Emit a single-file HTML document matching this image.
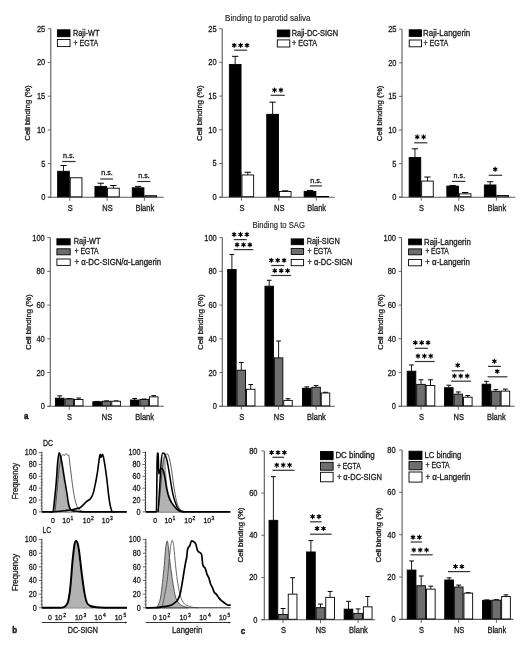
<!DOCTYPE html><html><head><meta charset="utf-8"><style>html,body{margin:0;padding:0;background:#fff;}svg{display:block;will-change:transform;}text{font-family:"Liberation Sans", sans-serif;fill:#1a1a1a;}</style></head><body>
<svg width="520" height="649" viewBox="0 0 520 649">
<rect width="520" height="649" fill="#fff"/>
<text x="225.10" y="20.90" font-size="8.64" textLength="85.40" lengthAdjust="spacingAndGlyphs" stroke="#1a1a1a" stroke-width="0.12">Binding to parotid saliva</text>
<line x1="50.80" y1="28.80" x2="50.80" y2="197.30" stroke="#5a5a5a" stroke-width="1.1"/>
<line x1="47.80" y1="197.30" x2="163.70" y2="197.30" stroke="#5a5a5a" stroke-width="1.1"/>
<line x1="47.80" y1="197.30" x2="50.80" y2="197.30" stroke="#5a5a5a" stroke-width="0.9"/>
<text x="45.30" y="200.25" font-size="9.00" text-anchor="end" textLength="4.17" lengthAdjust="spacingAndGlyphs" stroke="#1a1a1a" stroke-width="0.3">0</text>
<line x1="47.80" y1="163.60" x2="50.80" y2="163.60" stroke="#5a5a5a" stroke-width="0.9"/>
<text x="45.30" y="166.55" font-size="9.00" text-anchor="end" textLength="4.17" lengthAdjust="spacingAndGlyphs" stroke="#1a1a1a" stroke-width="0.3">5</text>
<line x1="47.80" y1="129.90" x2="50.80" y2="129.90" stroke="#5a5a5a" stroke-width="0.9"/>
<text x="45.30" y="132.85" font-size="9.00" text-anchor="end" textLength="8.34" lengthAdjust="spacingAndGlyphs" stroke="#1a1a1a" stroke-width="0.3">10</text>
<line x1="47.80" y1="96.20" x2="50.80" y2="96.20" stroke="#5a5a5a" stroke-width="0.9"/>
<text x="45.30" y="99.15" font-size="9.00" text-anchor="end" textLength="8.34" lengthAdjust="spacingAndGlyphs" stroke="#1a1a1a" stroke-width="0.3">15</text>
<line x1="47.80" y1="62.50" x2="50.80" y2="62.50" stroke="#5a5a5a" stroke-width="0.9"/>
<text x="45.30" y="65.45" font-size="9.00" text-anchor="end" textLength="8.34" lengthAdjust="spacingAndGlyphs" stroke="#1a1a1a" stroke-width="0.3">20</text>
<line x1="47.80" y1="28.80" x2="50.80" y2="28.80" stroke="#5a5a5a" stroke-width="0.9"/>
<text x="45.30" y="31.75" font-size="9.00" text-anchor="end" textLength="8.34" lengthAdjust="spacingAndGlyphs" stroke="#1a1a1a" stroke-width="0.3">25</text>
<line x1="69.80" y1="197.30" x2="69.80" y2="200.80" stroke="#5a5a5a" stroke-width="0.9"/>
<text x="70.20" y="210.90" font-size="8.55" text-anchor="middle" textLength="5.00" lengthAdjust="spacingAndGlyphs" stroke="#1a1a1a" stroke-width="0.3">S</text>
<line x1="107.10" y1="197.30" x2="107.10" y2="200.80" stroke="#5a5a5a" stroke-width="0.9"/>
<text x="107.50" y="210.90" font-size="8.55" text-anchor="middle" textLength="10.42" lengthAdjust="spacingAndGlyphs" stroke="#1a1a1a" stroke-width="0.3">NS</text>
<line x1="144.40" y1="197.30" x2="144.40" y2="200.80" stroke="#5a5a5a" stroke-width="0.9"/>
<text x="144.80" y="210.90" font-size="8.55" text-anchor="middle" textLength="18.76" lengthAdjust="spacingAndGlyphs" stroke="#1a1a1a" stroke-width="0.3">Blank</text>
<line x1="63.50" y1="165.49" x2="63.50" y2="171.28" stroke="#000" stroke-width="0.9"/>
<line x1="60.35" y1="165.49" x2="66.65" y2="165.49" stroke="#000" stroke-width="1.0"/>
<rect x="57.65" y="171.28" width="11.70" height="25.57" fill="#000" stroke="#000" stroke-width="0.9"/>
<rect x="70.25" y="177.75" width="11.70" height="19.10" fill="#fff" stroke="#000" stroke-width="0.9"/>
<line x1="100.80" y1="183.21" x2="100.80" y2="186.38" stroke="#000" stroke-width="0.9"/>
<line x1="97.65" y1="183.21" x2="103.95" y2="183.21" stroke="#000" stroke-width="1.0"/>
<rect x="94.95" y="186.38" width="11.70" height="10.47" fill="#000" stroke="#000" stroke-width="0.9"/>
<line x1="113.40" y1="185.51" x2="113.40" y2="188.20" stroke="#000" stroke-width="0.9"/>
<line x1="110.25" y1="185.51" x2="116.55" y2="185.51" stroke="#000" stroke-width="1.0"/>
<rect x="107.55" y="188.20" width="11.70" height="8.65" fill="#fff" stroke="#000" stroke-width="0.9"/>
<line x1="138.10" y1="186.38" x2="138.10" y2="187.80" stroke="#000" stroke-width="0.9"/>
<line x1="134.95" y1="186.38" x2="141.25" y2="186.38" stroke="#000" stroke-width="1.0"/>
<rect x="132.25" y="187.80" width="11.70" height="9.05" fill="#000" stroke="#000" stroke-width="0.9"/>
<rect x="144.85" y="195.68" width="11.70" height="1.17" fill="#fff" stroke="#000" stroke-width="0.9"/>
<text x="68.70" y="157.90" font-size="7.40" text-anchor="middle" textLength="11.60" lengthAdjust="spacingAndGlyphs" stroke="#1a1a1a" stroke-width="0.3">n.s.</text>
<line x1="62.10" y1="161.50" x2="75.60" y2="161.50" stroke="#333" stroke-width="1.2"/>
<text x="107.00" y="174.80" font-size="7.40" text-anchor="middle" textLength="11.60" lengthAdjust="spacingAndGlyphs" stroke="#1a1a1a" stroke-width="0.3">n.s.</text>
<line x1="100.20" y1="179.00" x2="113.10" y2="179.00" stroke="#333" stroke-width="1.2"/>
<text x="144.00" y="177.90" font-size="7.40" text-anchor="middle" textLength="11.60" lengthAdjust="spacingAndGlyphs" stroke="#1a1a1a" stroke-width="0.3">n.s.</text>
<line x1="137.30" y1="181.50" x2="150.40" y2="181.50" stroke="#333" stroke-width="1.2"/>
<rect x="57.40" y="29.80" width="12.60" height="6.90" fill="#000" stroke="#000" stroke-width="0.9"/>
<text x="72.90" y="35.85" font-size="8.47" textLength="26.50" lengthAdjust="spacingAndGlyphs" stroke="#1a1a1a" stroke-width="0.3">Raji-WT</text>
<rect x="57.40" y="39.50" width="12.60" height="7.10" fill="#fff" stroke="#000" stroke-width="0.9"/>
<text x="73.50" y="45.65" font-size="8.47" textLength="24.80" lengthAdjust="spacingAndGlyphs" stroke="#1a1a1a" stroke-width="0.3">+ EGTA</text>
<text x="30.40" y="113.00" font-size="7.30" text-anchor="middle" textLength="55.50" lengthAdjust="spacingAndGlyphs" stroke="#1a1a1a" stroke-width="0.3" transform="rotate(-90 30.40 113.00)">Cell binding (%)</text>
<line x1="222.20" y1="28.70" x2="222.20" y2="197.20" stroke="#5a5a5a" stroke-width="1.1"/>
<line x1="219.20" y1="197.20" x2="334.70" y2="197.20" stroke="#5a5a5a" stroke-width="1.1"/>
<line x1="219.20" y1="197.20" x2="222.20" y2="197.20" stroke="#5a5a5a" stroke-width="0.9"/>
<text x="216.70" y="200.15" font-size="9.00" text-anchor="end" textLength="4.17" lengthAdjust="spacingAndGlyphs" stroke="#1a1a1a" stroke-width="0.3">0</text>
<line x1="219.20" y1="163.50" x2="222.20" y2="163.50" stroke="#5a5a5a" stroke-width="0.9"/>
<text x="216.70" y="166.45" font-size="9.00" text-anchor="end" textLength="4.17" lengthAdjust="spacingAndGlyphs" stroke="#1a1a1a" stroke-width="0.3">5</text>
<line x1="219.20" y1="129.80" x2="222.20" y2="129.80" stroke="#5a5a5a" stroke-width="0.9"/>
<text x="216.70" y="132.75" font-size="9.00" text-anchor="end" textLength="8.34" lengthAdjust="spacingAndGlyphs" stroke="#1a1a1a" stroke-width="0.3">10</text>
<line x1="219.20" y1="96.10" x2="222.20" y2="96.10" stroke="#5a5a5a" stroke-width="0.9"/>
<text x="216.70" y="99.05" font-size="9.00" text-anchor="end" textLength="8.34" lengthAdjust="spacingAndGlyphs" stroke="#1a1a1a" stroke-width="0.3">15</text>
<line x1="219.20" y1="62.40" x2="222.20" y2="62.40" stroke="#5a5a5a" stroke-width="0.9"/>
<text x="216.70" y="65.35" font-size="9.00" text-anchor="end" textLength="8.34" lengthAdjust="spacingAndGlyphs" stroke="#1a1a1a" stroke-width="0.3">20</text>
<line x1="219.20" y1="28.70" x2="222.20" y2="28.70" stroke="#5a5a5a" stroke-width="0.9"/>
<text x="216.70" y="31.65" font-size="9.00" text-anchor="end" textLength="8.34" lengthAdjust="spacingAndGlyphs" stroke="#1a1a1a" stroke-width="0.3">25</text>
<line x1="241.50" y1="197.20" x2="241.50" y2="200.70" stroke="#5a5a5a" stroke-width="0.9"/>
<text x="241.90" y="210.90" font-size="8.55" text-anchor="middle" textLength="5.00" lengthAdjust="spacingAndGlyphs" stroke="#1a1a1a" stroke-width="0.3">S</text>
<line x1="278.90" y1="197.20" x2="278.90" y2="200.70" stroke="#5a5a5a" stroke-width="0.9"/>
<text x="279.30" y="210.90" font-size="8.55" text-anchor="middle" textLength="10.42" lengthAdjust="spacingAndGlyphs" stroke="#1a1a1a" stroke-width="0.3">NS</text>
<line x1="316.30" y1="197.20" x2="316.30" y2="200.70" stroke="#5a5a5a" stroke-width="0.9"/>
<text x="316.70" y="210.90" font-size="8.55" text-anchor="middle" textLength="18.76" lengthAdjust="spacingAndGlyphs" stroke="#1a1a1a" stroke-width="0.3">Blank</text>
<line x1="235.20" y1="56.33" x2="235.20" y2="64.42" stroke="#000" stroke-width="0.9"/>
<line x1="232.05" y1="56.33" x2="238.35" y2="56.33" stroke="#000" stroke-width="1.0"/>
<rect x="229.35" y="64.42" width="11.70" height="132.33" fill="#000" stroke="#000" stroke-width="0.9"/>
<line x1="247.80" y1="172.26" x2="247.80" y2="174.96" stroke="#000" stroke-width="0.9"/>
<line x1="244.65" y1="172.26" x2="250.95" y2="172.26" stroke="#000" stroke-width="1.0"/>
<rect x="241.95" y="174.96" width="11.70" height="21.79" fill="#fff" stroke="#000" stroke-width="0.9"/>
<line x1="272.60" y1="102.17" x2="272.60" y2="114.30" stroke="#000" stroke-width="0.9"/>
<line x1="269.45" y1="102.17" x2="275.75" y2="102.17" stroke="#000" stroke-width="1.0"/>
<rect x="266.75" y="114.30" width="11.70" height="82.45" fill="#000" stroke="#000" stroke-width="0.9"/>
<line x1="285.20" y1="190.80" x2="285.20" y2="191.47" stroke="#000" stroke-width="0.9"/>
<line x1="282.05" y1="190.80" x2="288.35" y2="190.80" stroke="#000" stroke-width="1.0"/>
<rect x="279.35" y="191.47" width="11.70" height="5.28" fill="#fff" stroke="#000" stroke-width="0.9"/>
<line x1="310.00" y1="190.46" x2="310.00" y2="191.40" stroke="#000" stroke-width="0.9"/>
<line x1="306.85" y1="190.46" x2="313.15" y2="190.46" stroke="#000" stroke-width="1.0"/>
<rect x="304.15" y="191.40" width="11.70" height="5.35" fill="#000" stroke="#000" stroke-width="0.9"/>
<rect x="316.75" y="196.53" width="11.70" height="0.22" fill="#fff" stroke="#000" stroke-width="0.9"/>
<path d="M234.20,43.25L234.20,47.35M232.42,44.27L235.98,46.32M235.98,44.27L232.42,46.32" stroke="#000" stroke-width="1.1" stroke-linecap="round"/>
<circle cx="234.20" cy="45.30" r="1.25" fill="#000"/>
<path d="M240.60,43.25L240.60,47.35M238.82,44.27L242.38,46.32M242.38,44.27L238.82,46.32" stroke="#000" stroke-width="1.1" stroke-linecap="round"/>
<circle cx="240.60" cy="45.30" r="1.25" fill="#000"/>
<path d="M247.00,43.25L247.00,47.35M245.22,44.27L248.78,46.32M248.78,44.27L245.22,46.32" stroke="#000" stroke-width="1.1" stroke-linecap="round"/>
<circle cx="247.00" cy="45.30" r="1.25" fill="#000"/>
<line x1="234.10" y1="50.20" x2="247.10" y2="50.20" stroke="#333" stroke-width="1.2"/>
<path d="M274.50,88.05L274.50,92.15M272.72,89.07L276.28,91.12M276.28,89.07L272.72,91.12" stroke="#000" stroke-width="1.1" stroke-linecap="round"/>
<circle cx="274.50" cy="90.10" r="1.25" fill="#000"/>
<path d="M280.90,88.05L280.90,92.15M279.12,89.07L282.68,91.12M282.68,89.07L279.12,91.12" stroke="#000" stroke-width="1.1" stroke-linecap="round"/>
<circle cx="280.90" cy="90.10" r="1.25" fill="#000"/>
<line x1="270.70" y1="95.30" x2="284.70" y2="95.30" stroke="#333" stroke-width="1.2"/>
<text x="316.00" y="182.80" font-size="7.40" text-anchor="middle" textLength="11.60" lengthAdjust="spacingAndGlyphs" stroke="#1a1a1a" stroke-width="0.3">n.s.</text>
<line x1="309.80" y1="185.90" x2="321.90" y2="185.90" stroke="#333" stroke-width="1.2"/>
<rect x="277.30" y="30.00" width="12.50" height="6.80" fill="#000" stroke="#000" stroke-width="0.9"/>
<text x="291.70" y="36.00" font-size="8.47" textLength="46.50" lengthAdjust="spacingAndGlyphs" stroke="#1a1a1a" stroke-width="0.3">Raji-DC-SIGN</text>
<rect x="277.30" y="39.90" width="12.50" height="7.10" fill="#fff" stroke="#000" stroke-width="0.9"/>
<text x="292.00" y="46.05" font-size="8.47" textLength="25.10" lengthAdjust="spacingAndGlyphs" stroke="#1a1a1a" stroke-width="0.3">+ EGTA</text>
<text x="202.10" y="113.20" font-size="7.30" text-anchor="middle" textLength="55.50" lengthAdjust="spacingAndGlyphs" stroke="#1a1a1a" stroke-width="0.3" transform="rotate(-90 202.10 113.20)">Cell binding (%)</text>
<line x1="402.00" y1="29.20" x2="402.00" y2="197.20" stroke="#5a5a5a" stroke-width="1.1"/>
<line x1="399.00" y1="197.20" x2="515.20" y2="197.20" stroke="#5a5a5a" stroke-width="1.1"/>
<line x1="399.00" y1="197.20" x2="402.00" y2="197.20" stroke="#5a5a5a" stroke-width="0.9"/>
<text x="396.50" y="200.15" font-size="9.00" text-anchor="end" textLength="4.17" lengthAdjust="spacingAndGlyphs" stroke="#1a1a1a" stroke-width="0.3">0</text>
<line x1="399.00" y1="163.60" x2="402.00" y2="163.60" stroke="#5a5a5a" stroke-width="0.9"/>
<text x="396.50" y="166.55" font-size="9.00" text-anchor="end" textLength="4.17" lengthAdjust="spacingAndGlyphs" stroke="#1a1a1a" stroke-width="0.3">5</text>
<line x1="399.00" y1="130.00" x2="402.00" y2="130.00" stroke="#5a5a5a" stroke-width="0.9"/>
<text x="396.50" y="132.95" font-size="9.00" text-anchor="end" textLength="8.34" lengthAdjust="spacingAndGlyphs" stroke="#1a1a1a" stroke-width="0.3">10</text>
<line x1="399.00" y1="96.40" x2="402.00" y2="96.40" stroke="#5a5a5a" stroke-width="0.9"/>
<text x="396.50" y="99.35" font-size="9.00" text-anchor="end" textLength="8.34" lengthAdjust="spacingAndGlyphs" stroke="#1a1a1a" stroke-width="0.3">15</text>
<line x1="399.00" y1="62.80" x2="402.00" y2="62.80" stroke="#5a5a5a" stroke-width="0.9"/>
<text x="396.50" y="65.75" font-size="9.00" text-anchor="end" textLength="8.34" lengthAdjust="spacingAndGlyphs" stroke="#1a1a1a" stroke-width="0.3">20</text>
<line x1="399.00" y1="29.20" x2="402.00" y2="29.20" stroke="#5a5a5a" stroke-width="0.9"/>
<text x="396.50" y="32.15" font-size="9.00" text-anchor="end" textLength="8.34" lengthAdjust="spacingAndGlyphs" stroke="#1a1a1a" stroke-width="0.3">25</text>
<line x1="421.20" y1="197.20" x2="421.20" y2="200.70" stroke="#5a5a5a" stroke-width="0.9"/>
<text x="421.60" y="210.90" font-size="8.55" text-anchor="middle" textLength="5.00" lengthAdjust="spacingAndGlyphs" stroke="#1a1a1a" stroke-width="0.3">S</text>
<line x1="458.90" y1="197.20" x2="458.90" y2="200.70" stroke="#5a5a5a" stroke-width="0.9"/>
<text x="459.30" y="210.90" font-size="8.55" text-anchor="middle" textLength="10.42" lengthAdjust="spacingAndGlyphs" stroke="#1a1a1a" stroke-width="0.3">NS</text>
<line x1="496.40" y1="197.20" x2="496.40" y2="200.70" stroke="#5a5a5a" stroke-width="0.9"/>
<text x="496.80" y="210.90" font-size="8.55" text-anchor="middle" textLength="18.76" lengthAdjust="spacingAndGlyphs" stroke="#1a1a1a" stroke-width="0.3">Blank</text>
<line x1="414.95" y1="148.82" x2="414.95" y2="157.55" stroke="#000" stroke-width="0.9"/>
<line x1="411.82" y1="148.82" x2="418.07" y2="148.82" stroke="#000" stroke-width="1.0"/>
<rect x="409.15" y="157.55" width="11.60" height="39.20" fill="#000" stroke="#000" stroke-width="0.9"/>
<line x1="427.45" y1="177.04" x2="427.45" y2="181.07" stroke="#000" stroke-width="0.9"/>
<line x1="424.32" y1="177.04" x2="430.57" y2="177.04" stroke="#000" stroke-width="1.0"/>
<rect x="421.65" y="181.07" width="11.60" height="15.68" fill="#fff" stroke="#000" stroke-width="0.9"/>
<line x1="452.65" y1="185.44" x2="452.65" y2="186.11" stroke="#000" stroke-width="0.9"/>
<line x1="449.52" y1="185.44" x2="455.77" y2="185.44" stroke="#000" stroke-width="1.0"/>
<rect x="446.85" y="186.11" width="11.60" height="10.64" fill="#000" stroke="#000" stroke-width="0.9"/>
<line x1="465.15" y1="192.50" x2="465.15" y2="193.84" stroke="#000" stroke-width="0.9"/>
<line x1="462.02" y1="192.50" x2="468.27" y2="192.50" stroke="#000" stroke-width="1.0"/>
<rect x="459.35" y="193.84" width="11.60" height="2.91" fill="#fff" stroke="#000" stroke-width="0.9"/>
<line x1="490.15" y1="181.74" x2="490.15" y2="184.97" stroke="#000" stroke-width="0.9"/>
<line x1="487.02" y1="181.74" x2="493.27" y2="181.74" stroke="#000" stroke-width="1.0"/>
<rect x="484.35" y="184.97" width="11.60" height="11.78" fill="#000" stroke="#000" stroke-width="0.9"/>
<rect x="496.85" y="195.52" width="11.60" height="1.23" fill="#fff" stroke="#000" stroke-width="0.9"/>
<path d="M417.20,134.85L417.20,138.95M415.42,135.88L418.98,137.93M418.98,135.88L415.42,137.93" stroke="#000" stroke-width="1.1" stroke-linecap="round"/>
<circle cx="417.20" cy="136.90" r="1.25" fill="#000"/>
<path d="M423.60,134.85L423.60,138.95M421.82,135.88L425.38,137.93M425.38,135.88L421.82,137.93" stroke="#000" stroke-width="1.1" stroke-linecap="round"/>
<circle cx="423.60" cy="136.90" r="1.25" fill="#000"/>
<line x1="414.20" y1="142.80" x2="427.40" y2="142.80" stroke="#333" stroke-width="1.2"/>
<text x="459.40" y="177.50" font-size="7.40" text-anchor="middle" textLength="11.60" lengthAdjust="spacingAndGlyphs" stroke="#1a1a1a" stroke-width="0.3">n.s.</text>
<line x1="451.90" y1="181.40" x2="465.40" y2="181.40" stroke="#333" stroke-width="1.2"/>
<path d="M495.20,167.15L495.20,171.25M493.42,168.17L496.98,170.22M496.98,168.17L493.42,170.22" stroke="#000" stroke-width="1.1" stroke-linecap="round"/>
<circle cx="495.20" cy="169.20" r="1.25" fill="#000"/>
<line x1="488.75" y1="175.30" x2="502.20" y2="175.30" stroke="#333" stroke-width="1.2"/>
<rect x="409.20" y="29.80" width="12.30" height="6.60" fill="#000" stroke="#000" stroke-width="0.9"/>
<text x="423.00" y="35.70" font-size="8.47" textLength="47.20" lengthAdjust="spacingAndGlyphs" stroke="#1a1a1a" stroke-width="0.3">Raji-Langerin</text>
<rect x="409.20" y="40.00" width="12.30" height="6.80" fill="#fff" stroke="#000" stroke-width="0.9"/>
<text x="423.50" y="46.00" font-size="8.47" textLength="24.80" lengthAdjust="spacingAndGlyphs" stroke="#1a1a1a" stroke-width="0.3">+ EGTA</text>
<text x="382.20" y="113.40" font-size="7.30" text-anchor="middle" textLength="55.50" lengthAdjust="spacingAndGlyphs" stroke="#1a1a1a" stroke-width="0.3" transform="rotate(-90 382.20 113.40)">Cell binding (%)</text>
<text x="252.40" y="227.90" font-size="8.42" textLength="52.50" lengthAdjust="spacingAndGlyphs" stroke="#1a1a1a" stroke-width="0.12">Binding to SAG</text>
<line x1="50.30" y1="237.60" x2="50.30" y2="406.30" stroke="#5a5a5a" stroke-width="1.1"/>
<line x1="47.30" y1="406.30" x2="163.70" y2="406.30" stroke="#5a5a5a" stroke-width="1.1"/>
<line x1="47.30" y1="406.30" x2="50.30" y2="406.30" stroke="#5a5a5a" stroke-width="0.9"/>
<text x="44.80" y="409.25" font-size="9.00" text-anchor="end" textLength="4.17" lengthAdjust="spacingAndGlyphs" stroke="#1a1a1a" stroke-width="0.3">0</text>
<line x1="47.30" y1="372.56" x2="50.30" y2="372.56" stroke="#5a5a5a" stroke-width="0.9"/>
<text x="44.80" y="375.51" font-size="9.00" text-anchor="end" textLength="8.34" lengthAdjust="spacingAndGlyphs" stroke="#1a1a1a" stroke-width="0.3">20</text>
<line x1="47.30" y1="338.82" x2="50.30" y2="338.82" stroke="#5a5a5a" stroke-width="0.9"/>
<text x="44.80" y="341.77" font-size="9.00" text-anchor="end" textLength="8.34" lengthAdjust="spacingAndGlyphs" stroke="#1a1a1a" stroke-width="0.3">40</text>
<line x1="47.30" y1="305.08" x2="50.30" y2="305.08" stroke="#5a5a5a" stroke-width="0.9"/>
<text x="44.80" y="308.03" font-size="9.00" text-anchor="end" textLength="8.34" lengthAdjust="spacingAndGlyphs" stroke="#1a1a1a" stroke-width="0.3">60</text>
<line x1="47.30" y1="271.34" x2="50.30" y2="271.34" stroke="#5a5a5a" stroke-width="0.9"/>
<text x="44.80" y="274.29" font-size="9.00" text-anchor="end" textLength="8.34" lengthAdjust="spacingAndGlyphs" stroke="#1a1a1a" stroke-width="0.3">80</text>
<line x1="47.30" y1="237.60" x2="50.30" y2="237.60" stroke="#5a5a5a" stroke-width="0.9"/>
<text x="44.80" y="240.55" font-size="9.00" text-anchor="end" textLength="12.51" lengthAdjust="spacingAndGlyphs" stroke="#1a1a1a" stroke-width="0.3">100</text>
<line x1="69.20" y1="406.30" x2="69.20" y2="409.80" stroke="#5a5a5a" stroke-width="0.9"/>
<text x="69.60" y="419.50" font-size="8.55" text-anchor="middle" textLength="5.00" lengthAdjust="spacingAndGlyphs" stroke="#1a1a1a" stroke-width="0.3">S</text>
<line x1="106.60" y1="406.30" x2="106.60" y2="409.80" stroke="#5a5a5a" stroke-width="0.9"/>
<text x="107.00" y="419.50" font-size="8.55" text-anchor="middle" textLength="10.42" lengthAdjust="spacingAndGlyphs" stroke="#1a1a1a" stroke-width="0.3">NS</text>
<line x1="144.20" y1="406.30" x2="144.20" y2="409.80" stroke="#5a5a5a" stroke-width="0.9"/>
<text x="144.60" y="419.50" font-size="8.55" text-anchor="middle" textLength="18.76" lengthAdjust="spacingAndGlyphs" stroke="#1a1a1a" stroke-width="0.3">Blank</text>
<line x1="59.70" y1="395.84" x2="59.70" y2="398.20" stroke="#000" stroke-width="0.9"/>
<line x1="57.33" y1="395.84" x2="62.08" y2="395.84" stroke="#000" stroke-width="1.0"/>
<rect x="55.40" y="398.20" width="8.60" height="7.65" fill="#000" stroke="#000" stroke-width="0.9"/>
<line x1="69.20" y1="398.54" x2="69.20" y2="398.88" stroke="#000" stroke-width="0.9"/>
<line x1="66.83" y1="398.54" x2="71.58" y2="398.54" stroke="#000" stroke-width="1.0"/>
<rect x="64.90" y="398.88" width="8.60" height="6.97" fill="#6e6e6e" stroke="#000" stroke-width="0.9"/>
<line x1="78.70" y1="398.03" x2="78.70" y2="399.55" stroke="#000" stroke-width="0.9"/>
<line x1="76.33" y1="398.03" x2="81.08" y2="398.03" stroke="#000" stroke-width="1.0"/>
<rect x="74.40" y="399.55" width="8.60" height="6.30" fill="#fff" stroke="#000" stroke-width="0.9"/>
<line x1="97.10" y1="401.41" x2="97.10" y2="401.75" stroke="#000" stroke-width="0.9"/>
<line x1="94.72" y1="401.41" x2="99.47" y2="401.41" stroke="#000" stroke-width="1.0"/>
<rect x="92.80" y="401.75" width="8.60" height="4.10" fill="#000" stroke="#000" stroke-width="0.9"/>
<line x1="106.60" y1="400.90" x2="106.60" y2="401.24" stroke="#000" stroke-width="0.9"/>
<line x1="104.22" y1="400.90" x2="108.97" y2="400.90" stroke="#000" stroke-width="1.0"/>
<rect x="102.30" y="401.24" width="8.60" height="4.61" fill="#6e6e6e" stroke="#000" stroke-width="0.9"/>
<line x1="116.10" y1="400.90" x2="116.10" y2="401.24" stroke="#000" stroke-width="0.9"/>
<line x1="113.72" y1="400.90" x2="118.47" y2="400.90" stroke="#000" stroke-width="1.0"/>
<rect x="111.80" y="401.24" width="8.60" height="4.61" fill="#fff" stroke="#000" stroke-width="0.9"/>
<line x1="134.70" y1="398.54" x2="134.70" y2="400.06" stroke="#000" stroke-width="0.9"/>
<line x1="132.32" y1="398.54" x2="137.07" y2="398.54" stroke="#000" stroke-width="1.0"/>
<rect x="130.40" y="400.06" width="8.60" height="5.79" fill="#000" stroke="#000" stroke-width="0.9"/>
<line x1="144.20" y1="399.05" x2="144.20" y2="399.38" stroke="#000" stroke-width="0.9"/>
<line x1="141.82" y1="399.05" x2="146.57" y2="399.05" stroke="#000" stroke-width="1.0"/>
<rect x="139.90" y="399.38" width="8.60" height="6.47" fill="#6e6e6e" stroke="#000" stroke-width="0.9"/>
<line x1="153.70" y1="395.67" x2="153.70" y2="396.85" stroke="#000" stroke-width="0.9"/>
<line x1="151.32" y1="395.67" x2="156.07" y2="395.67" stroke="#000" stroke-width="1.0"/>
<rect x="149.40" y="396.85" width="8.60" height="9.00" fill="#fff" stroke="#000" stroke-width="0.9"/>
<rect x="56.90" y="238.80" width="13.30" height="6.10" fill="#000" stroke="#000" stroke-width="0.9"/>
<text x="73.70" y="244.45" font-size="8.47" textLength="26.80" lengthAdjust="spacingAndGlyphs" stroke="#1a1a1a" stroke-width="0.3">Raji-WT</text>
<rect x="56.90" y="248.80" width="13.30" height="6.00" fill="#6e6e6e" stroke="#000" stroke-width="0.9"/>
<text x="74.50" y="254.40" font-size="8.47" textLength="24.20" lengthAdjust="spacingAndGlyphs" stroke="#1a1a1a" stroke-width="0.3">+ EGTA</text>
<rect x="56.90" y="259.00" width="13.30" height="6.40" fill="#fff" stroke="#000" stroke-width="0.9"/>
<text x="74.50" y="264.80" font-size="8.47" textLength="86.60" lengthAdjust="spacingAndGlyphs" stroke="#1a1a1a" stroke-width="0.3">+ α-DC-SIGN/α-Langerin</text>
<text x="30.60" y="322.20" font-size="7.30" text-anchor="middle" textLength="55.50" lengthAdjust="spacingAndGlyphs" stroke="#1a1a1a" stroke-width="0.3" transform="rotate(-90 30.60 322.20)">Cell binding (%)</text>
<line x1="222.30" y1="237.60" x2="222.30" y2="406.30" stroke="#5a5a5a" stroke-width="1.1"/>
<line x1="219.30" y1="406.30" x2="334.90" y2="406.30" stroke="#5a5a5a" stroke-width="1.1"/>
<line x1="219.30" y1="406.30" x2="222.30" y2="406.30" stroke="#5a5a5a" stroke-width="0.9"/>
<text x="216.80" y="409.25" font-size="9.00" text-anchor="end" textLength="4.17" lengthAdjust="spacingAndGlyphs" stroke="#1a1a1a" stroke-width="0.3">0</text>
<line x1="219.30" y1="372.56" x2="222.30" y2="372.56" stroke="#5a5a5a" stroke-width="0.9"/>
<text x="216.80" y="375.51" font-size="9.00" text-anchor="end" textLength="8.34" lengthAdjust="spacingAndGlyphs" stroke="#1a1a1a" stroke-width="0.3">20</text>
<line x1="219.30" y1="338.82" x2="222.30" y2="338.82" stroke="#5a5a5a" stroke-width="0.9"/>
<text x="216.80" y="341.77" font-size="9.00" text-anchor="end" textLength="8.34" lengthAdjust="spacingAndGlyphs" stroke="#1a1a1a" stroke-width="0.3">40</text>
<line x1="219.30" y1="305.08" x2="222.30" y2="305.08" stroke="#5a5a5a" stroke-width="0.9"/>
<text x="216.80" y="308.03" font-size="9.00" text-anchor="end" textLength="8.34" lengthAdjust="spacingAndGlyphs" stroke="#1a1a1a" stroke-width="0.3">60</text>
<line x1="219.30" y1="271.34" x2="222.30" y2="271.34" stroke="#5a5a5a" stroke-width="0.9"/>
<text x="216.80" y="274.29" font-size="9.00" text-anchor="end" textLength="8.34" lengthAdjust="spacingAndGlyphs" stroke="#1a1a1a" stroke-width="0.3">80</text>
<line x1="219.30" y1="237.60" x2="222.30" y2="237.60" stroke="#5a5a5a" stroke-width="0.9"/>
<text x="216.80" y="240.55" font-size="9.00" text-anchor="end" textLength="12.51" lengthAdjust="spacingAndGlyphs" stroke="#1a1a1a" stroke-width="0.3">100</text>
<line x1="241.30" y1="406.30" x2="241.30" y2="409.80" stroke="#5a5a5a" stroke-width="0.9"/>
<text x="241.70" y="419.50" font-size="8.55" text-anchor="middle" textLength="5.00" lengthAdjust="spacingAndGlyphs" stroke="#1a1a1a" stroke-width="0.3">S</text>
<line x1="278.60" y1="406.30" x2="278.60" y2="409.80" stroke="#5a5a5a" stroke-width="0.9"/>
<text x="279.00" y="419.50" font-size="8.55" text-anchor="middle" textLength="10.42" lengthAdjust="spacingAndGlyphs" stroke="#1a1a1a" stroke-width="0.3">NS</text>
<line x1="316.10" y1="406.30" x2="316.10" y2="409.80" stroke="#5a5a5a" stroke-width="0.9"/>
<text x="316.50" y="419.50" font-size="8.55" text-anchor="middle" textLength="18.76" lengthAdjust="spacingAndGlyphs" stroke="#1a1a1a" stroke-width="0.3">Blank</text>
<line x1="231.90" y1="254.47" x2="231.90" y2="269.48" stroke="#000" stroke-width="0.9"/>
<line x1="229.55" y1="254.47" x2="234.25" y2="254.47" stroke="#000" stroke-width="1.0"/>
<rect x="227.65" y="269.48" width="8.50" height="136.37" fill="#000" stroke="#000" stroke-width="0.9"/>
<line x1="241.30" y1="362.44" x2="241.30" y2="370.20" stroke="#000" stroke-width="0.9"/>
<line x1="238.95" y1="362.44" x2="243.65" y2="362.44" stroke="#000" stroke-width="1.0"/>
<rect x="237.05" y="370.20" width="8.50" height="35.65" fill="#6e6e6e" stroke="#000" stroke-width="0.9"/>
<line x1="250.70" y1="384.54" x2="250.70" y2="389.26" stroke="#000" stroke-width="0.9"/>
<line x1="248.35" y1="384.54" x2="253.05" y2="384.54" stroke="#000" stroke-width="1.0"/>
<rect x="246.45" y="389.26" width="8.50" height="16.59" fill="#fff" stroke="#000" stroke-width="0.9"/>
<line x1="269.20" y1="280.28" x2="269.20" y2="286.19" stroke="#000" stroke-width="0.9"/>
<line x1="266.85" y1="280.28" x2="271.55" y2="280.28" stroke="#000" stroke-width="1.0"/>
<rect x="264.95" y="286.19" width="8.50" height="119.66" fill="#000" stroke="#000" stroke-width="0.9"/>
<line x1="278.60" y1="341.01" x2="278.60" y2="357.88" stroke="#000" stroke-width="0.9"/>
<line x1="276.25" y1="341.01" x2="280.95" y2="341.01" stroke="#000" stroke-width="1.0"/>
<rect x="274.35" y="357.88" width="8.50" height="47.97" fill="#6e6e6e" stroke="#000" stroke-width="0.9"/>
<line x1="288.00" y1="398.71" x2="288.00" y2="400.40" stroke="#000" stroke-width="0.9"/>
<line x1="285.65" y1="398.71" x2="290.35" y2="398.71" stroke="#000" stroke-width="1.0"/>
<rect x="283.75" y="400.40" width="8.50" height="5.45" fill="#fff" stroke="#000" stroke-width="0.9"/>
<line x1="306.70" y1="386.90" x2="306.70" y2="388.25" stroke="#000" stroke-width="0.9"/>
<line x1="304.35" y1="386.90" x2="309.05" y2="386.90" stroke="#000" stroke-width="1.0"/>
<rect x="302.45" y="388.25" width="8.50" height="17.60" fill="#000" stroke="#000" stroke-width="0.9"/>
<line x1="316.10" y1="385.55" x2="316.10" y2="387.24" stroke="#000" stroke-width="0.9"/>
<line x1="313.75" y1="385.55" x2="318.45" y2="385.55" stroke="#000" stroke-width="1.0"/>
<rect x="311.85" y="387.24" width="8.50" height="18.61" fill="#6e6e6e" stroke="#000" stroke-width="0.9"/>
<line x1="325.50" y1="392.30" x2="325.50" y2="392.97" stroke="#000" stroke-width="0.9"/>
<line x1="323.15" y1="392.30" x2="327.85" y2="392.30" stroke="#000" stroke-width="1.0"/>
<rect x="321.25" y="392.97" width="8.50" height="12.88" fill="#fff" stroke="#000" stroke-width="0.9"/>
<path d="M234.10,232.35L234.10,236.45M232.32,233.38L235.88,235.43M235.88,233.38L232.32,235.43" stroke="#000" stroke-width="1.1" stroke-linecap="round"/>
<circle cx="234.10" cy="234.40" r="1.25" fill="#000"/>
<path d="M240.50,232.35L240.50,236.45M238.72,233.38L242.28,235.43M242.28,233.38L238.72,235.43" stroke="#000" stroke-width="1.1" stroke-linecap="round"/>
<circle cx="240.50" cy="234.40" r="1.25" fill="#000"/>
<path d="M246.90,232.35L246.90,236.45M245.12,233.38L248.68,235.43M248.68,233.38L245.12,235.43" stroke="#000" stroke-width="1.1" stroke-linecap="round"/>
<circle cx="246.90" cy="234.40" r="1.25" fill="#000"/>
<line x1="233.70" y1="239.60" x2="246.70" y2="239.60" stroke="#333" stroke-width="1.2"/>
<path d="M237.10,242.75L237.10,246.85M235.32,243.78L238.88,245.83M238.88,243.78L235.32,245.83" stroke="#000" stroke-width="1.1" stroke-linecap="round"/>
<circle cx="237.10" cy="244.80" r="1.25" fill="#000"/>
<path d="M243.50,242.75L243.50,246.85M241.72,243.78L245.28,245.83M245.28,243.78L241.72,245.83" stroke="#000" stroke-width="1.1" stroke-linecap="round"/>
<circle cx="243.50" cy="244.80" r="1.25" fill="#000"/>
<path d="M249.90,242.75L249.90,246.85M248.12,243.78L251.68,245.83M251.68,243.78L248.12,245.83" stroke="#000" stroke-width="1.1" stroke-linecap="round"/>
<circle cx="249.90" cy="244.80" r="1.25" fill="#000"/>
<line x1="233.70" y1="249.60" x2="253.30" y2="249.60" stroke="#333" stroke-width="1.2"/>
<path d="M271.30,258.25L271.30,262.35M269.52,259.28L273.08,261.32M273.08,259.28L269.52,261.32" stroke="#000" stroke-width="1.1" stroke-linecap="round"/>
<circle cx="271.30" cy="260.30" r="1.25" fill="#000"/>
<path d="M277.70,258.25L277.70,262.35M275.92,259.28L279.48,261.32M279.48,259.28L275.92,261.32" stroke="#000" stroke-width="1.1" stroke-linecap="round"/>
<circle cx="277.70" cy="260.30" r="1.25" fill="#000"/>
<path d="M284.10,258.25L284.10,262.35M282.32,259.28L285.88,261.32M285.88,259.28L282.32,261.32" stroke="#000" stroke-width="1.1" stroke-linecap="round"/>
<circle cx="284.10" cy="260.30" r="1.25" fill="#000"/>
<line x1="271.20" y1="265.50" x2="284.20" y2="265.50" stroke="#333" stroke-width="1.2"/>
<path d="M274.80,268.65L274.80,272.75M273.02,269.68L276.58,271.72M276.58,269.68L273.02,271.72" stroke="#000" stroke-width="1.1" stroke-linecap="round"/>
<circle cx="274.80" cy="270.70" r="1.25" fill="#000"/>
<path d="M281.20,268.65L281.20,272.75M279.42,269.68L282.98,271.72M282.98,269.68L279.42,271.72" stroke="#000" stroke-width="1.1" stroke-linecap="round"/>
<circle cx="281.20" cy="270.70" r="1.25" fill="#000"/>
<path d="M287.60,268.65L287.60,272.75M285.82,269.68L289.38,271.72M289.38,269.68L285.82,271.72" stroke="#000" stroke-width="1.1" stroke-linecap="round"/>
<circle cx="287.60" cy="270.70" r="1.25" fill="#000"/>
<line x1="271.20" y1="275.50" x2="291.20" y2="275.50" stroke="#333" stroke-width="1.2"/>
<rect x="291.20" y="238.90" width="12.40" height="5.80" fill="#000" stroke="#000" stroke-width="0.9"/>
<text x="306.70" y="244.40" font-size="8.47" textLength="33.10" lengthAdjust="spacingAndGlyphs" stroke="#1a1a1a" stroke-width="0.3">Raji-SIGN</text>
<rect x="291.20" y="248.40" width="12.40" height="6.10" fill="#6e6e6e" stroke="#000" stroke-width="0.9"/>
<text x="307.50" y="254.05" font-size="8.47" textLength="24.20" lengthAdjust="spacingAndGlyphs" stroke="#1a1a1a" stroke-width="0.3">+ EGTA</text>
<rect x="291.20" y="259.40" width="12.40" height="6.30" fill="#fff" stroke="#000" stroke-width="0.9"/>
<text x="307.50" y="265.15" font-size="8.47" textLength="45.00" lengthAdjust="spacingAndGlyphs" stroke="#1a1a1a" stroke-width="0.3">+ α-DC-SIGN</text>
<text x="202.90" y="322.20" font-size="7.30" text-anchor="middle" textLength="55.50" lengthAdjust="spacingAndGlyphs" stroke="#1a1a1a" stroke-width="0.3" transform="rotate(-90 202.90 322.20)">Cell binding (%)</text>
<line x1="401.50" y1="237.60" x2="401.50" y2="406.30" stroke="#5a5a5a" stroke-width="1.1"/>
<line x1="398.50" y1="406.30" x2="514.80" y2="406.30" stroke="#5a5a5a" stroke-width="1.1"/>
<line x1="398.50" y1="406.30" x2="401.50" y2="406.30" stroke="#5a5a5a" stroke-width="0.9"/>
<text x="396.00" y="409.25" font-size="9.00" text-anchor="end" textLength="4.17" lengthAdjust="spacingAndGlyphs" stroke="#1a1a1a" stroke-width="0.3">0</text>
<line x1="398.50" y1="372.56" x2="401.50" y2="372.56" stroke="#5a5a5a" stroke-width="0.9"/>
<text x="396.00" y="375.51" font-size="9.00" text-anchor="end" textLength="8.34" lengthAdjust="spacingAndGlyphs" stroke="#1a1a1a" stroke-width="0.3">20</text>
<line x1="398.50" y1="338.82" x2="401.50" y2="338.82" stroke="#5a5a5a" stroke-width="0.9"/>
<text x="396.00" y="341.77" font-size="9.00" text-anchor="end" textLength="8.34" lengthAdjust="spacingAndGlyphs" stroke="#1a1a1a" stroke-width="0.3">40</text>
<line x1="398.50" y1="305.08" x2="401.50" y2="305.08" stroke="#5a5a5a" stroke-width="0.9"/>
<text x="396.00" y="308.03" font-size="9.00" text-anchor="end" textLength="8.34" lengthAdjust="spacingAndGlyphs" stroke="#1a1a1a" stroke-width="0.3">60</text>
<line x1="398.50" y1="271.34" x2="401.50" y2="271.34" stroke="#5a5a5a" stroke-width="0.9"/>
<text x="396.00" y="274.29" font-size="9.00" text-anchor="end" textLength="8.34" lengthAdjust="spacingAndGlyphs" stroke="#1a1a1a" stroke-width="0.3">80</text>
<line x1="398.50" y1="237.60" x2="401.50" y2="237.60" stroke="#5a5a5a" stroke-width="0.9"/>
<text x="396.00" y="240.55" font-size="9.00" text-anchor="end" textLength="12.51" lengthAdjust="spacingAndGlyphs" stroke="#1a1a1a" stroke-width="0.3">100</text>
<line x1="421.00" y1="406.30" x2="421.00" y2="409.80" stroke="#5a5a5a" stroke-width="0.9"/>
<text x="421.40" y="419.50" font-size="8.55" text-anchor="middle" textLength="5.00" lengthAdjust="spacingAndGlyphs" stroke="#1a1a1a" stroke-width="0.3">S</text>
<line x1="458.30" y1="406.30" x2="458.30" y2="409.80" stroke="#5a5a5a" stroke-width="0.9"/>
<text x="458.70" y="419.50" font-size="8.55" text-anchor="middle" textLength="10.42" lengthAdjust="spacingAndGlyphs" stroke="#1a1a1a" stroke-width="0.3">NS</text>
<line x1="495.90" y1="406.30" x2="495.90" y2="409.80" stroke="#5a5a5a" stroke-width="0.9"/>
<text x="496.30" y="419.50" font-size="8.55" text-anchor="middle" textLength="18.76" lengthAdjust="spacingAndGlyphs" stroke="#1a1a1a" stroke-width="0.3">Blank</text>
<line x1="411.50" y1="364.97" x2="411.50" y2="371.21" stroke="#000" stroke-width="0.9"/>
<line x1="409.12" y1="364.97" x2="413.88" y2="364.97" stroke="#000" stroke-width="1.0"/>
<rect x="407.20" y="371.21" width="8.60" height="34.64" fill="#000" stroke="#000" stroke-width="0.9"/>
<line x1="421.00" y1="379.81" x2="421.00" y2="384.37" stroke="#000" stroke-width="0.9"/>
<line x1="418.62" y1="379.81" x2="423.38" y2="379.81" stroke="#000" stroke-width="1.0"/>
<rect x="416.70" y="384.37" width="8.60" height="21.48" fill="#6e6e6e" stroke="#000" stroke-width="0.9"/>
<line x1="430.50" y1="379.81" x2="430.50" y2="385.55" stroke="#000" stroke-width="0.9"/>
<line x1="428.12" y1="379.81" x2="432.88" y2="379.81" stroke="#000" stroke-width="1.0"/>
<rect x="426.20" y="385.55" width="8.60" height="20.30" fill="#fff" stroke="#000" stroke-width="0.9"/>
<line x1="448.80" y1="385.21" x2="448.80" y2="387.74" stroke="#000" stroke-width="0.9"/>
<line x1="446.43" y1="385.21" x2="451.18" y2="385.21" stroke="#000" stroke-width="1.0"/>
<rect x="444.50" y="387.74" width="8.60" height="18.11" fill="#000" stroke="#000" stroke-width="0.9"/>
<line x1="458.30" y1="391.96" x2="458.30" y2="394.15" stroke="#000" stroke-width="0.9"/>
<line x1="455.93" y1="391.96" x2="460.68" y2="391.96" stroke="#000" stroke-width="1.0"/>
<rect x="454.00" y="394.15" width="8.60" height="11.70" fill="#6e6e6e" stroke="#000" stroke-width="0.9"/>
<line x1="467.80" y1="395.50" x2="467.80" y2="397.19" stroke="#000" stroke-width="0.9"/>
<line x1="465.43" y1="395.50" x2="470.18" y2="395.50" stroke="#000" stroke-width="1.0"/>
<rect x="463.50" y="397.19" width="8.60" height="8.66" fill="#fff" stroke="#000" stroke-width="0.9"/>
<line x1="486.40" y1="381.33" x2="486.40" y2="384.20" stroke="#000" stroke-width="0.9"/>
<line x1="484.02" y1="381.33" x2="488.77" y2="381.33" stroke="#000" stroke-width="1.0"/>
<rect x="482.10" y="384.20" width="8.60" height="21.65" fill="#000" stroke="#000" stroke-width="0.9"/>
<line x1="495.90" y1="389.60" x2="495.90" y2="391.29" stroke="#000" stroke-width="0.9"/>
<line x1="493.52" y1="389.60" x2="498.27" y2="389.60" stroke="#000" stroke-width="1.0"/>
<rect x="491.60" y="391.29" width="8.60" height="14.56" fill="#6e6e6e" stroke="#000" stroke-width="0.9"/>
<line x1="505.40" y1="389.09" x2="505.40" y2="391.12" stroke="#000" stroke-width="0.9"/>
<line x1="503.02" y1="389.09" x2="507.77" y2="389.09" stroke="#000" stroke-width="1.0"/>
<rect x="501.10" y="391.12" width="8.60" height="14.73" fill="#fff" stroke="#000" stroke-width="0.9"/>
<path d="M415.30,340.65L415.30,344.75M413.52,341.68L417.08,343.72M417.08,341.68L413.52,343.72" stroke="#000" stroke-width="1.1" stroke-linecap="round"/>
<circle cx="415.30" cy="342.70" r="1.25" fill="#000"/>
<path d="M421.70,340.65L421.70,344.75M419.92,341.68L423.48,343.72M423.48,341.68L419.92,343.72" stroke="#000" stroke-width="1.1" stroke-linecap="round"/>
<circle cx="421.70" cy="342.70" r="1.25" fill="#000"/>
<path d="M428.10,340.65L428.10,344.75M426.32,341.68L429.88,343.72M429.88,341.68L426.32,343.72" stroke="#000" stroke-width="1.1" stroke-linecap="round"/>
<circle cx="428.10" cy="342.70" r="1.25" fill="#000"/>
<line x1="415.00" y1="348.30" x2="427.90" y2="348.30" stroke="#333" stroke-width="1.2"/>
<path d="M418.00,354.05L418.00,358.15M416.22,355.08L419.78,357.12M419.78,355.08L416.22,357.12" stroke="#000" stroke-width="1.1" stroke-linecap="round"/>
<circle cx="418.00" cy="356.10" r="1.25" fill="#000"/>
<path d="M424.40,354.05L424.40,358.15M422.62,355.08L426.18,357.12M426.18,355.08L422.62,357.12" stroke="#000" stroke-width="1.1" stroke-linecap="round"/>
<circle cx="424.40" cy="356.10" r="1.25" fill="#000"/>
<path d="M430.80,354.05L430.80,358.15M429.02,355.08L432.58,357.12M432.58,355.08L429.02,357.12" stroke="#000" stroke-width="1.1" stroke-linecap="round"/>
<circle cx="430.80" cy="356.10" r="1.25" fill="#000"/>
<line x1="415.00" y1="361.50" x2="434.70" y2="361.50" stroke="#333" stroke-width="1.2"/>
<path d="M457.70,363.15L457.70,367.25M455.92,364.18L459.48,366.22M459.48,364.18L455.92,366.22" stroke="#000" stroke-width="1.1" stroke-linecap="round"/>
<circle cx="457.70" cy="365.20" r="1.25" fill="#000"/>
<line x1="451.60" y1="370.80" x2="464.30" y2="370.80" stroke="#333" stroke-width="1.2"/>
<path d="M454.40,373.95L454.40,378.05M452.62,374.98L456.18,377.02M456.18,374.98L452.62,377.02" stroke="#000" stroke-width="1.1" stroke-linecap="round"/>
<circle cx="454.40" cy="376.00" r="1.25" fill="#000"/>
<path d="M460.80,373.95L460.80,378.05M459.02,374.98L462.58,377.02M462.58,374.98L459.02,377.02" stroke="#000" stroke-width="1.1" stroke-linecap="round"/>
<circle cx="460.80" cy="376.00" r="1.25" fill="#000"/>
<path d="M467.20,373.95L467.20,378.05M465.42,374.98L468.98,377.02M468.98,374.98L465.42,377.02" stroke="#000" stroke-width="1.1" stroke-linecap="round"/>
<circle cx="467.20" cy="376.00" r="1.25" fill="#000"/>
<line x1="451.10" y1="381.20" x2="471.00" y2="381.20" stroke="#333" stroke-width="1.2"/>
<path d="M494.40,359.15L494.40,363.25M492.62,360.18L496.18,362.22M496.18,360.18L492.62,362.22" stroke="#000" stroke-width="1.1" stroke-linecap="round"/>
<circle cx="494.40" cy="361.20" r="1.25" fill="#000"/>
<line x1="488.00" y1="366.40" x2="501.00" y2="366.40" stroke="#333" stroke-width="1.2"/>
<path d="M497.20,369.25L497.20,373.35M495.42,370.28L498.98,372.32M498.98,370.28L495.42,372.32" stroke="#000" stroke-width="1.1" stroke-linecap="round"/>
<circle cx="497.20" cy="371.30" r="1.25" fill="#000"/>
<line x1="487.60" y1="376.80" x2="507.40" y2="376.80" stroke="#333" stroke-width="1.2"/>
<rect x="408.60" y="239.00" width="12.90" height="5.80" fill="#000" stroke="#000" stroke-width="0.9"/>
<text x="424.00" y="244.50" font-size="8.47" textLength="46.80" lengthAdjust="spacingAndGlyphs" stroke="#1a1a1a" stroke-width="0.3">Raji-Langerin</text>
<rect x="408.60" y="248.90" width="12.90" height="5.90" fill="#6e6e6e" stroke="#000" stroke-width="0.9"/>
<text x="425.20" y="254.45" font-size="8.47" textLength="23.60" lengthAdjust="spacingAndGlyphs" stroke="#1a1a1a" stroke-width="0.3">+ EGTA</text>
<rect x="408.60" y="259.40" width="12.90" height="6.40" fill="#fff" stroke="#000" stroke-width="0.9"/>
<text x="425.20" y="265.20" font-size="8.47" textLength="44.60" lengthAdjust="spacingAndGlyphs" stroke="#1a1a1a" stroke-width="0.3">+ α-Langerin</text>
<text x="382.60" y="322.20" font-size="7.30" text-anchor="middle" textLength="55.50" lengthAdjust="spacingAndGlyphs" stroke="#1a1a1a" stroke-width="0.3" transform="rotate(-90 382.60 322.20)">Cell binding (%)</text>
<text x="26.30" y="419.40" font-size="8.96" text-anchor="middle" textLength="4.45" lengthAdjust="spacingAndGlyphs" font-weight="bold" stroke="#1a1a1a" stroke-width="0.45">a</text>
<line x1="264.30" y1="450.90" x2="264.30" y2="619.70" stroke="#5a5a5a" stroke-width="1.1"/>
<line x1="261.30" y1="619.70" x2="375.20" y2="619.70" stroke="#5a5a5a" stroke-width="1.1"/>
<line x1="261.30" y1="619.70" x2="264.30" y2="619.70" stroke="#5a5a5a" stroke-width="0.9"/>
<text x="257.50" y="622.65" font-size="9.00" text-anchor="end" textLength="4.17" lengthAdjust="spacingAndGlyphs" stroke="#1a1a1a" stroke-width="0.3">0</text>
<line x1="261.30" y1="577.50" x2="264.30" y2="577.50" stroke="#5a5a5a" stroke-width="0.9"/>
<text x="257.50" y="580.45" font-size="9.00" text-anchor="end" textLength="8.34" lengthAdjust="spacingAndGlyphs" stroke="#1a1a1a" stroke-width="0.3">20</text>
<line x1="261.30" y1="535.30" x2="264.30" y2="535.30" stroke="#5a5a5a" stroke-width="0.9"/>
<text x="257.50" y="538.25" font-size="9.00" text-anchor="end" textLength="8.34" lengthAdjust="spacingAndGlyphs" stroke="#1a1a1a" stroke-width="0.3">40</text>
<line x1="261.30" y1="493.10" x2="264.30" y2="493.10" stroke="#5a5a5a" stroke-width="0.9"/>
<text x="257.50" y="496.05" font-size="9.00" text-anchor="end" textLength="8.34" lengthAdjust="spacingAndGlyphs" stroke="#1a1a1a" stroke-width="0.3">60</text>
<line x1="261.30" y1="450.90" x2="264.30" y2="450.90" stroke="#5a5a5a" stroke-width="0.9"/>
<text x="257.50" y="453.85" font-size="9.00" text-anchor="end" textLength="8.34" lengthAdjust="spacingAndGlyphs" stroke="#1a1a1a" stroke-width="0.3">80</text>
<line x1="283.00" y1="619.70" x2="283.00" y2="623.20" stroke="#5a5a5a" stroke-width="0.9"/>
<text x="283.40" y="632.90" font-size="8.55" text-anchor="middle" textLength="5.00" lengthAdjust="spacingAndGlyphs" stroke="#1a1a1a" stroke-width="0.3">S</text>
<line x1="320.50" y1="619.70" x2="320.50" y2="623.20" stroke="#5a5a5a" stroke-width="0.9"/>
<text x="320.90" y="632.90" font-size="8.55" text-anchor="middle" textLength="10.42" lengthAdjust="spacingAndGlyphs" stroke="#1a1a1a" stroke-width="0.3">NS</text>
<line x1="358.10" y1="619.70" x2="358.10" y2="623.20" stroke="#5a5a5a" stroke-width="0.9"/>
<text x="358.50" y="632.90" font-size="8.55" text-anchor="middle" textLength="18.76" lengthAdjust="spacingAndGlyphs" stroke="#1a1a1a" stroke-width="0.3">Blank</text>
<line x1="273.40" y1="476.64" x2="273.40" y2="520.32" stroke="#000" stroke-width="0.9"/>
<line x1="271.00" y1="476.64" x2="275.80" y2="476.64" stroke="#000" stroke-width="1.0"/>
<rect x="269.05" y="520.32" width="8.70" height="98.93" fill="#000" stroke="#000" stroke-width="0.9"/>
<line x1="283.00" y1="608.52" x2="283.00" y2="614.43" stroke="#000" stroke-width="0.9"/>
<line x1="280.60" y1="608.52" x2="285.40" y2="608.52" stroke="#000" stroke-width="1.0"/>
<rect x="278.65" y="614.43" width="8.70" height="4.82" fill="#6e6e6e" stroke="#000" stroke-width="0.9"/>
<line x1="292.60" y1="577.71" x2="292.60" y2="594.17" stroke="#000" stroke-width="0.9"/>
<line x1="290.20" y1="577.71" x2="295.00" y2="577.71" stroke="#000" stroke-width="1.0"/>
<rect x="288.25" y="594.17" width="8.70" height="25.08" fill="#fff" stroke="#000" stroke-width="0.9"/>
<line x1="310.90" y1="540.58" x2="310.90" y2="551.97" stroke="#000" stroke-width="0.9"/>
<line x1="308.50" y1="540.58" x2="313.30" y2="540.58" stroke="#000" stroke-width="1.0"/>
<rect x="306.55" y="551.97" width="8.70" height="67.28" fill="#000" stroke="#000" stroke-width="0.9"/>
<line x1="320.50" y1="604.09" x2="320.50" y2="607.67" stroke="#000" stroke-width="0.9"/>
<line x1="318.10" y1="604.09" x2="322.90" y2="604.09" stroke="#000" stroke-width="1.0"/>
<rect x="316.15" y="607.67" width="8.70" height="11.58" fill="#6e6e6e" stroke="#000" stroke-width="0.9"/>
<line x1="330.10" y1="591.43" x2="330.10" y2="597.33" stroke="#000" stroke-width="0.9"/>
<line x1="327.70" y1="591.43" x2="332.50" y2="591.43" stroke="#000" stroke-width="1.0"/>
<rect x="325.75" y="597.33" width="8.70" height="21.92" fill="#fff" stroke="#000" stroke-width="0.9"/>
<line x1="348.50" y1="601.34" x2="348.50" y2="609.15" stroke="#000" stroke-width="0.9"/>
<line x1="346.10" y1="601.34" x2="350.90" y2="601.34" stroke="#000" stroke-width="1.0"/>
<rect x="344.15" y="609.15" width="8.70" height="10.10" fill="#000" stroke="#000" stroke-width="0.9"/>
<line x1="358.10" y1="608.94" x2="358.10" y2="613.37" stroke="#000" stroke-width="0.9"/>
<line x1="355.70" y1="608.94" x2="360.50" y2="608.94" stroke="#000" stroke-width="1.0"/>
<rect x="353.75" y="613.37" width="8.70" height="5.88" fill="#6e6e6e" stroke="#000" stroke-width="0.9"/>
<line x1="367.70" y1="596.49" x2="367.70" y2="606.83" stroke="#000" stroke-width="0.9"/>
<line x1="365.30" y1="596.49" x2="370.10" y2="596.49" stroke="#000" stroke-width="1.0"/>
<rect x="363.35" y="606.83" width="8.70" height="12.42" fill="#fff" stroke="#000" stroke-width="0.9"/>
<path d="M271.60,450.45L271.60,454.55M269.82,451.48L273.38,453.52M273.38,451.48L269.82,453.52" stroke="#000" stroke-width="1.1" stroke-linecap="round"/>
<circle cx="271.60" cy="452.50" r="1.25" fill="#000"/>
<path d="M278.00,450.45L278.00,454.55M276.22,451.48L279.78,453.52M279.78,451.48L276.22,453.52" stroke="#000" stroke-width="1.1" stroke-linecap="round"/>
<circle cx="278.00" cy="452.50" r="1.25" fill="#000"/>
<path d="M284.40,450.45L284.40,454.55M282.62,451.48L286.18,453.52M286.18,451.48L282.62,453.52" stroke="#000" stroke-width="1.1" stroke-linecap="round"/>
<circle cx="284.40" cy="452.50" r="1.25" fill="#000"/>
<line x1="272.50" y1="457.30" x2="284.10" y2="457.30" stroke="#333" stroke-width="1.2"/>
<path d="M276.80,463.05L276.80,467.15M275.02,464.08L278.58,466.12M278.58,464.08L275.02,466.12" stroke="#000" stroke-width="1.1" stroke-linecap="round"/>
<circle cx="276.80" cy="465.10" r="1.25" fill="#000"/>
<path d="M283.20,463.05L283.20,467.15M281.42,464.08L284.98,466.12M284.98,464.08L281.42,466.12" stroke="#000" stroke-width="1.1" stroke-linecap="round"/>
<circle cx="283.20" cy="465.10" r="1.25" fill="#000"/>
<path d="M289.60,463.05L289.60,467.15M287.82,464.08L291.38,466.12M291.38,464.08L287.82,466.12" stroke="#000" stroke-width="1.1" stroke-linecap="round"/>
<circle cx="289.60" cy="465.10" r="1.25" fill="#000"/>
<line x1="272.50" y1="470.30" x2="294.50" y2="470.30" stroke="#333" stroke-width="1.2"/>
<path d="M312.60,514.55L312.60,518.65M310.82,515.58L314.38,517.62M314.38,515.58L310.82,517.62" stroke="#000" stroke-width="1.1" stroke-linecap="round"/>
<circle cx="312.60" cy="516.60" r="1.25" fill="#000"/>
<path d="M319.00,514.55L319.00,518.65M317.22,515.58L320.78,517.62M320.78,515.58L317.22,517.62" stroke="#000" stroke-width="1.1" stroke-linecap="round"/>
<circle cx="319.00" cy="516.60" r="1.25" fill="#000"/>
<line x1="310.00" y1="521.80" x2="321.60" y2="521.80" stroke="#333" stroke-width="1.2"/>
<path d="M317.10,526.45L317.10,530.55M315.32,527.48L318.88,529.52M318.88,527.48L315.32,529.52" stroke="#000" stroke-width="1.1" stroke-linecap="round"/>
<circle cx="317.10" cy="528.50" r="1.25" fill="#000"/>
<path d="M323.50,526.45L323.50,530.55M321.72,527.48L325.28,529.52M325.28,527.48L321.72,529.52" stroke="#000" stroke-width="1.1" stroke-linecap="round"/>
<circle cx="323.50" cy="528.50" r="1.25" fill="#000"/>
<line x1="310.00" y1="534.20" x2="331.70" y2="534.20" stroke="#333" stroke-width="1.2"/>
<rect x="320.50" y="451.50" width="12.60" height="8.20" fill="#000" stroke="#000" stroke-width="0.9"/>
<text x="335.40" y="458.20" font-size="8.47" textLength="39.20" lengthAdjust="spacingAndGlyphs" stroke="#1a1a1a" stroke-width="0.3">DC binding</text>
<rect x="320.50" y="462.30" width="12.60" height="7.90" fill="#6e6e6e" stroke="#000" stroke-width="0.9"/>
<text x="336.90" y="468.85" font-size="8.47" textLength="23.90" lengthAdjust="spacingAndGlyphs" stroke="#1a1a1a" stroke-width="0.3">+ EGTA</text>
<rect x="320.50" y="472.30" width="12.60" height="9.50" fill="#fff" stroke="#000" stroke-width="0.9"/>
<text x="336.90" y="479.65" font-size="8.47" textLength="45.10" lengthAdjust="spacingAndGlyphs" stroke="#1a1a1a" stroke-width="0.3">+ α-DC-SIGN</text>
<text x="243.00" y="535.00" font-size="6.80" text-anchor="middle" textLength="54.90" lengthAdjust="spacingAndGlyphs" stroke="#1a1a1a" stroke-width="0.3" transform="rotate(-90 243.00 535.00)">Cell binding (%)</text>
<line x1="402.10" y1="450.00" x2="402.10" y2="619.40" stroke="#5a5a5a" stroke-width="1.1"/>
<line x1="399.10" y1="619.40" x2="513.30" y2="619.40" stroke="#5a5a5a" stroke-width="1.1"/>
<line x1="399.10" y1="619.40" x2="402.10" y2="619.40" stroke="#5a5a5a" stroke-width="0.9"/>
<text x="395.60" y="622.35" font-size="9.00" text-anchor="end" textLength="4.17" lengthAdjust="spacingAndGlyphs" stroke="#1a1a1a" stroke-width="0.3">0</text>
<line x1="399.10" y1="577.05" x2="402.10" y2="577.05" stroke="#5a5a5a" stroke-width="0.9"/>
<text x="395.60" y="580.00" font-size="9.00" text-anchor="end" textLength="8.34" lengthAdjust="spacingAndGlyphs" stroke="#1a1a1a" stroke-width="0.3">20</text>
<line x1="399.10" y1="534.70" x2="402.10" y2="534.70" stroke="#5a5a5a" stroke-width="0.9"/>
<text x="395.60" y="537.65" font-size="9.00" text-anchor="end" textLength="8.34" lengthAdjust="spacingAndGlyphs" stroke="#1a1a1a" stroke-width="0.3">40</text>
<line x1="399.10" y1="492.35" x2="402.10" y2="492.35" stroke="#5a5a5a" stroke-width="0.9"/>
<text x="395.60" y="495.30" font-size="9.00" text-anchor="end" textLength="8.34" lengthAdjust="spacingAndGlyphs" stroke="#1a1a1a" stroke-width="0.3">60</text>
<line x1="399.10" y1="450.00" x2="402.10" y2="450.00" stroke="#5a5a5a" stroke-width="0.9"/>
<text x="395.60" y="452.95" font-size="9.00" text-anchor="end" textLength="8.34" lengthAdjust="spacingAndGlyphs" stroke="#1a1a1a" stroke-width="0.3">80</text>
<line x1="421.20" y1="619.40" x2="421.20" y2="622.90" stroke="#5a5a5a" stroke-width="0.9"/>
<text x="421.60" y="632.90" font-size="8.55" text-anchor="middle" textLength="5.00" lengthAdjust="spacingAndGlyphs" stroke="#1a1a1a" stroke-width="0.3">S</text>
<line x1="458.70" y1="619.40" x2="458.70" y2="622.90" stroke="#5a5a5a" stroke-width="0.9"/>
<text x="459.10" y="632.90" font-size="8.55" text-anchor="middle" textLength="10.42" lengthAdjust="spacingAndGlyphs" stroke="#1a1a1a" stroke-width="0.3">NS</text>
<line x1="496.40" y1="619.40" x2="496.40" y2="622.90" stroke="#5a5a5a" stroke-width="0.9"/>
<text x="496.80" y="632.90" font-size="8.55" text-anchor="middle" textLength="18.76" lengthAdjust="spacingAndGlyphs" stroke="#1a1a1a" stroke-width="0.3">Blank</text>
<line x1="411.60" y1="560.96" x2="411.60" y2="570.06" stroke="#000" stroke-width="0.9"/>
<line x1="409.20" y1="560.96" x2="414.00" y2="560.96" stroke="#000" stroke-width="1.0"/>
<rect x="407.25" y="570.06" width="8.70" height="48.89" fill="#000" stroke="#000" stroke-width="0.9"/>
<line x1="421.20" y1="575.99" x2="421.20" y2="585.73" stroke="#000" stroke-width="0.9"/>
<line x1="418.80" y1="575.99" x2="423.60" y2="575.99" stroke="#000" stroke-width="1.0"/>
<rect x="416.85" y="585.73" width="8.70" height="33.22" fill="#6e6e6e" stroke="#000" stroke-width="0.9"/>
<line x1="430.80" y1="586.16" x2="430.80" y2="589.12" stroke="#000" stroke-width="0.9"/>
<line x1="428.40" y1="586.16" x2="433.20" y2="586.16" stroke="#000" stroke-width="1.0"/>
<rect x="426.45" y="589.12" width="8.70" height="29.83" fill="#fff" stroke="#000" stroke-width="0.9"/>
<line x1="449.10" y1="577.90" x2="449.10" y2="580.01" stroke="#000" stroke-width="0.9"/>
<line x1="446.70" y1="577.90" x2="451.50" y2="577.90" stroke="#000" stroke-width="1.0"/>
<rect x="444.75" y="580.01" width="8.70" height="38.94" fill="#000" stroke="#000" stroke-width="0.9"/>
<line x1="458.70" y1="585.10" x2="458.70" y2="587.00" stroke="#000" stroke-width="0.9"/>
<line x1="456.30" y1="585.10" x2="461.10" y2="585.10" stroke="#000" stroke-width="1.0"/>
<rect x="454.35" y="587.00" width="8.70" height="31.95" fill="#6e6e6e" stroke="#000" stroke-width="0.9"/>
<line x1="468.30" y1="592.72" x2="468.30" y2="593.14" stroke="#000" stroke-width="0.9"/>
<line x1="465.90" y1="592.72" x2="470.70" y2="592.72" stroke="#000" stroke-width="1.0"/>
<rect x="463.95" y="593.14" width="8.70" height="25.81" fill="#fff" stroke="#000" stroke-width="0.9"/>
<line x1="486.80" y1="599.92" x2="486.80" y2="600.34" stroke="#000" stroke-width="0.9"/>
<line x1="484.40" y1="599.92" x2="489.20" y2="599.92" stroke="#000" stroke-width="1.0"/>
<rect x="482.45" y="600.34" width="8.70" height="18.61" fill="#000" stroke="#000" stroke-width="0.9"/>
<line x1="496.40" y1="599.71" x2="496.40" y2="600.13" stroke="#000" stroke-width="0.9"/>
<line x1="494.00" y1="599.71" x2="498.80" y2="599.71" stroke="#000" stroke-width="1.0"/>
<rect x="492.05" y="600.13" width="8.70" height="18.82" fill="#6e6e6e" stroke="#000" stroke-width="0.9"/>
<line x1="506.00" y1="594.84" x2="506.00" y2="596.53" stroke="#000" stroke-width="0.9"/>
<line x1="503.60" y1="594.84" x2="508.40" y2="594.84" stroke="#000" stroke-width="1.0"/>
<rect x="501.65" y="596.53" width="8.70" height="22.42" fill="#fff" stroke="#000" stroke-width="0.9"/>
<path d="M413.00,535.15L413.00,539.25M411.22,536.18L414.78,538.23M414.78,536.18L411.22,538.23" stroke="#000" stroke-width="1.1" stroke-linecap="round"/>
<circle cx="413.00" cy="537.20" r="1.25" fill="#000"/>
<path d="M419.40,535.15L419.40,539.25M417.62,536.18L421.18,538.23M421.18,536.18L417.62,538.23" stroke="#000" stroke-width="1.1" stroke-linecap="round"/>
<circle cx="419.40" cy="537.20" r="1.25" fill="#000"/>
<line x1="410.60" y1="542.00" x2="421.90" y2="542.00" stroke="#333" stroke-width="1.2"/>
<path d="M413.80,547.95L413.80,552.05M412.02,548.98L415.58,551.02M415.58,548.98L412.02,551.02" stroke="#000" stroke-width="1.1" stroke-linecap="round"/>
<circle cx="413.80" cy="550.00" r="1.25" fill="#000"/>
<path d="M420.20,547.95L420.20,552.05M418.42,548.98L421.98,551.02M421.98,548.98L418.42,551.02" stroke="#000" stroke-width="1.1" stroke-linecap="round"/>
<circle cx="420.20" cy="550.00" r="1.25" fill="#000"/>
<path d="M426.60,547.95L426.60,552.05M424.82,548.98L428.38,551.02M428.38,548.98L424.82,551.02" stroke="#000" stroke-width="1.1" stroke-linecap="round"/>
<circle cx="426.60" cy="550.00" r="1.25" fill="#000"/>
<line x1="410.60" y1="554.80" x2="432.70" y2="554.80" stroke="#333" stroke-width="1.2"/>
<path d="M455.50,564.45L455.50,568.55M453.72,565.48L457.28,567.52M457.28,565.48L453.72,567.52" stroke="#000" stroke-width="1.1" stroke-linecap="round"/>
<circle cx="455.50" cy="566.50" r="1.25" fill="#000"/>
<path d="M461.90,564.45L461.90,568.55M460.12,565.48L463.68,567.52M463.68,565.48L460.12,567.52" stroke="#000" stroke-width="1.1" stroke-linecap="round"/>
<circle cx="461.90" cy="566.50" r="1.25" fill="#000"/>
<line x1="447.90" y1="571.60" x2="470.00" y2="571.60" stroke="#333" stroke-width="1.2"/>
<rect x="409.00" y="451.20" width="13.00" height="8.20" fill="#000" stroke="#000" stroke-width="0.9"/>
<text x="424.60" y="457.90" font-size="8.47" textLength="36.70" lengthAdjust="spacingAndGlyphs" stroke="#1a1a1a" stroke-width="0.3">LC binding</text>
<rect x="409.00" y="461.60" width="13.00" height="8.20" fill="#6e6e6e" stroke="#000" stroke-width="0.9"/>
<text x="425.50" y="468.30" font-size="8.47" textLength="24.20" lengthAdjust="spacingAndGlyphs" stroke="#1a1a1a" stroke-width="0.3">+ EGTA</text>
<rect x="409.00" y="472.00" width="13.00" height="10.10" fill="#fff" stroke="#000" stroke-width="0.9"/>
<text x="425.50" y="479.65" font-size="8.47" textLength="45.00" lengthAdjust="spacingAndGlyphs" stroke="#1a1a1a" stroke-width="0.3">+ α-Langerin</text>
<text x="381.00" y="535.00" font-size="6.80" text-anchor="middle" textLength="54.90" lengthAdjust="spacingAndGlyphs" stroke="#1a1a1a" stroke-width="0.3" transform="rotate(-90 381.00 535.00)">Cell binding (%)</text>
<text x="243.00" y="634.20" font-size="8.96" text-anchor="middle" textLength="4.45" lengthAdjust="spacingAndGlyphs" font-weight="bold" stroke="#1a1a1a" stroke-width="0.45">c</text>
<text x="42.90" y="445.70" font-size="8.55" textLength="10.00" lengthAdjust="spacingAndGlyphs" stroke="#1a1a1a" stroke-width="0.3">DC</text>
<line x1="41.80" y1="451.60" x2="41.80" y2="511.90" stroke="#444" stroke-width="1.0"/>
<line x1="41.80" y1="511.90" x2="126.80" y2="511.90" stroke="#222" stroke-width="1.0"/>
<line x1="38.80" y1="511.90" x2="41.80" y2="511.90" stroke="#444" stroke-width="0.8"/>
<text x="36.80" y="514.70" font-size="8.64" text-anchor="end" textLength="4.00" lengthAdjust="spacingAndGlyphs" stroke="#1a1a1a" stroke-width="0.3">0</text>
<line x1="40.50" y1="508.94" x2="42.60" y2="508.94" stroke="#555" stroke-width="0.8"/>
<line x1="40.50" y1="505.97" x2="42.60" y2="505.97" stroke="#555" stroke-width="0.8"/>
<line x1="40.50" y1="503.00" x2="42.60" y2="503.00" stroke="#555" stroke-width="0.8"/>
<line x1="38.80" y1="500.04" x2="41.80" y2="500.04" stroke="#444" stroke-width="0.8"/>
<text x="36.80" y="502.84" font-size="8.64" text-anchor="end" textLength="8.01" lengthAdjust="spacingAndGlyphs" stroke="#1a1a1a" stroke-width="0.3">20</text>
<line x1="40.50" y1="497.07" x2="42.60" y2="497.07" stroke="#555" stroke-width="0.8"/>
<line x1="40.50" y1="494.11" x2="42.60" y2="494.11" stroke="#555" stroke-width="0.8"/>
<line x1="40.50" y1="491.14" x2="42.60" y2="491.14" stroke="#555" stroke-width="0.8"/>
<line x1="38.80" y1="488.18" x2="41.80" y2="488.18" stroke="#444" stroke-width="0.8"/>
<text x="36.80" y="490.98" font-size="8.64" text-anchor="end" textLength="8.01" lengthAdjust="spacingAndGlyphs" stroke="#1a1a1a" stroke-width="0.3">40</text>
<line x1="40.50" y1="485.21" x2="42.60" y2="485.21" stroke="#555" stroke-width="0.8"/>
<line x1="40.50" y1="482.25" x2="42.60" y2="482.25" stroke="#555" stroke-width="0.8"/>
<line x1="40.50" y1="479.29" x2="42.60" y2="479.29" stroke="#555" stroke-width="0.8"/>
<line x1="38.80" y1="476.32" x2="41.80" y2="476.32" stroke="#444" stroke-width="0.8"/>
<text x="36.80" y="479.12" font-size="8.64" text-anchor="end" textLength="8.01" lengthAdjust="spacingAndGlyphs" stroke="#1a1a1a" stroke-width="0.3">60</text>
<line x1="40.50" y1="473.36" x2="42.60" y2="473.36" stroke="#555" stroke-width="0.8"/>
<line x1="40.50" y1="470.39" x2="42.60" y2="470.39" stroke="#555" stroke-width="0.8"/>
<line x1="40.50" y1="467.43" x2="42.60" y2="467.43" stroke="#555" stroke-width="0.8"/>
<line x1="38.80" y1="464.46" x2="41.80" y2="464.46" stroke="#444" stroke-width="0.8"/>
<text x="36.80" y="467.26" font-size="8.64" text-anchor="end" textLength="8.01" lengthAdjust="spacingAndGlyphs" stroke="#1a1a1a" stroke-width="0.3">80</text>
<line x1="40.50" y1="461.50" x2="42.60" y2="461.50" stroke="#555" stroke-width="0.8"/>
<line x1="40.50" y1="458.53" x2="42.60" y2="458.53" stroke="#555" stroke-width="0.8"/>
<line x1="40.50" y1="455.56" x2="42.60" y2="455.56" stroke="#555" stroke-width="0.8"/>
<line x1="38.80" y1="452.60" x2="41.80" y2="452.60" stroke="#444" stroke-width="0.8"/>
<text x="36.80" y="455.40" font-size="8.64" text-anchor="end" textLength="12.01" lengthAdjust="spacingAndGlyphs" stroke="#1a1a1a" stroke-width="0.3">100</text>
<text x="53.00" y="522.70" font-size="7.57" text-anchor="middle" textLength="3.89" lengthAdjust="spacingAndGlyphs" stroke="#1a1a1a" stroke-width="0.3">0</text>
<text x="66.20" y="522.70" font-size="7.25" text-anchor="middle" textLength="7.67" lengthAdjust="spacingAndGlyphs" stroke="#1a1a1a" stroke-width="0.3">10</text>
<text x="70.50" y="520.40" font-size="5.25" textLength="2.78" lengthAdjust="spacingAndGlyphs" stroke="#1a1a1a" stroke-width="0.3">1</text>
<text x="86.70" y="522.70" font-size="7.25" text-anchor="middle" textLength="7.67" lengthAdjust="spacingAndGlyphs" stroke="#1a1a1a" stroke-width="0.3">10</text>
<text x="91.00" y="520.40" font-size="5.25" textLength="2.78" lengthAdjust="spacingAndGlyphs" stroke="#1a1a1a" stroke-width="0.3">2</text>
<text x="105.70" y="522.70" font-size="7.25" text-anchor="middle" textLength="7.67" lengthAdjust="spacingAndGlyphs" stroke="#1a1a1a" stroke-width="0.3">10</text>
<text x="110.00" y="520.40" font-size="5.25" textLength="2.78" lengthAdjust="spacingAndGlyphs" stroke="#1a1a1a" stroke-width="0.3">3</text>
<path d="M53.50,511.90C54.03,507.60 54.57,503.82 55.10,499.00C55.73,493.28 56.37,486.73 57.00,480.00C57.53,474.33 58.07,466.33 58.60,462.00C59.07,458.21 59.53,455.00 60.00,455.00C60.33,455.00 60.67,456.04 61.00,458.00C61.53,461.13 62.07,467.54 62.60,472.00C63.50,479.52 64.40,487.95 65.30,493.50C66.20,499.05 67.10,502.47 68.00,505.30C68.90,508.13 69.80,509.15 70.70,510.50C71.13,511.15 71.57,511.43 72.00,511.90Z" fill="#b2b2b2" stroke="#888" stroke-width="0.6"/>
<path d="M55.00,511.90C55.73,504.60 56.47,497.72 57.20,490.00C57.80,483.68 58.40,474.95 59.00,470.00C59.87,462.85 60.73,458.79 61.60,456.00C62.07,454.50 62.53,454.50 63.00,454.50C63.50,454.50 64.00,455.50 64.50,455.50C65.00,455.50 65.50,453.50 66.00,453.50C66.50,453.50 67.00,455.00 67.50,455.00C67.87,455.00 68.23,455.00 68.60,455.00C69.13,455.00 69.67,462.52 70.20,466.60C70.73,470.68 71.27,475.38 71.80,479.50C72.33,483.62 72.87,488.02 73.40,491.30C74.13,495.80 74.87,499.36 75.60,502.10C76.30,504.72 77.00,506.23 77.70,507.50C78.80,509.50 79.90,510.25 81.00,511.00C82.00,511.68 83.00,511.60 84.00,511.90" fill="none" stroke="#333" stroke-width="0.8" stroke-linejoin="round"/>
<path d="M42.00,511.90C45.67,511.90 49.33,511.90 53.00,511.60C53.50,511.56 54.00,504.48 54.50,500.00C55.07,494.93 55.63,489.39 56.20,482.70C56.73,476.40 57.27,466.38 57.80,461.20C58.27,456.66 58.73,452.80 59.20,452.80C60.00,452.80 60.80,457.32 61.60,461.20C62.47,465.40 63.33,472.02 64.20,477.30C65.10,482.79 66.00,487.94 66.90,493.50C67.47,497.00 68.03,501.77 68.60,504.30C69.30,507.42 70.00,508.99 70.70,509.70C71.97,510.98 73.23,510.80 74.50,511.00C76.33,511.29 78.17,511.47 80.00,511.60C83.33,511.83 86.67,511.90 90.00,511.90C102.27,511.90 114.53,511.90 126.80,511.90" fill="none" stroke="#000" stroke-width="1.6" stroke-linejoin="round"/>
<path d="M50.00,511.90C53.33,511.70 56.67,511.62 60.00,511.30C62.30,511.08 64.60,510.70 66.90,510.40C68.70,510.17 70.50,510.05 72.30,509.70C73.73,509.42 75.17,508.95 76.60,508.60C77.73,508.32 78.87,508.46 80.00,507.80C81.07,507.17 82.13,505.82 83.20,504.80C84.30,503.75 85.40,502.56 86.50,501.60C87.93,500.36 89.37,500.42 90.80,498.30C91.70,496.97 92.60,495.49 93.50,492.40C94.03,490.57 94.57,487.46 95.10,484.90C95.47,483.14 95.83,481.51 96.20,479.50C96.73,476.57 97.27,473.40 97.80,469.80C98.33,466.20 98.87,461.12 99.40,457.90C99.67,456.29 99.93,454.20 100.20,454.20C100.47,454.20 100.73,457.40 101.00,457.40C101.53,457.40 102.07,454.20 102.60,454.20C103.13,454.20 103.67,458.35 104.20,461.20C104.77,464.22 105.33,467.81 105.90,471.90C106.43,475.75 106.97,480.40 107.50,484.90C108.03,489.40 108.57,495.13 109.10,498.90C109.63,502.67 110.17,505.38 110.70,507.50C111.23,509.62 111.77,511.42 112.30,511.60C113.20,511.90 114.10,511.88 115.00,511.90" fill="none" stroke="#000" stroke-width="1.6" stroke-linejoin="round"/>
<line x1="145.50" y1="451.60" x2="145.50" y2="511.90" stroke="#444" stroke-width="1.0"/>
<line x1="145.50" y1="511.90" x2="230.30" y2="511.90" stroke="#222" stroke-width="1.0"/>
<line x1="142.50" y1="511.90" x2="145.50" y2="511.90" stroke="#444" stroke-width="0.8"/>
<text x="140.50" y="514.70" font-size="8.64" text-anchor="end" textLength="4.00" lengthAdjust="spacingAndGlyphs" stroke="#1a1a1a" stroke-width="0.3">0</text>
<line x1="144.20" y1="508.94" x2="146.30" y2="508.94" stroke="#555" stroke-width="0.8"/>
<line x1="144.20" y1="505.97" x2="146.30" y2="505.97" stroke="#555" stroke-width="0.8"/>
<line x1="144.20" y1="503.00" x2="146.30" y2="503.00" stroke="#555" stroke-width="0.8"/>
<line x1="142.50" y1="500.04" x2="145.50" y2="500.04" stroke="#444" stroke-width="0.8"/>
<text x="140.50" y="502.84" font-size="8.64" text-anchor="end" textLength="8.01" lengthAdjust="spacingAndGlyphs" stroke="#1a1a1a" stroke-width="0.3">20</text>
<line x1="144.20" y1="497.07" x2="146.30" y2="497.07" stroke="#555" stroke-width="0.8"/>
<line x1="144.20" y1="494.11" x2="146.30" y2="494.11" stroke="#555" stroke-width="0.8"/>
<line x1="144.20" y1="491.14" x2="146.30" y2="491.14" stroke="#555" stroke-width="0.8"/>
<line x1="142.50" y1="488.18" x2="145.50" y2="488.18" stroke="#444" stroke-width="0.8"/>
<text x="140.50" y="490.98" font-size="8.64" text-anchor="end" textLength="8.01" lengthAdjust="spacingAndGlyphs" stroke="#1a1a1a" stroke-width="0.3">40</text>
<line x1="144.20" y1="485.21" x2="146.30" y2="485.21" stroke="#555" stroke-width="0.8"/>
<line x1="144.20" y1="482.25" x2="146.30" y2="482.25" stroke="#555" stroke-width="0.8"/>
<line x1="144.20" y1="479.29" x2="146.30" y2="479.29" stroke="#555" stroke-width="0.8"/>
<line x1="142.50" y1="476.32" x2="145.50" y2="476.32" stroke="#444" stroke-width="0.8"/>
<text x="140.50" y="479.12" font-size="8.64" text-anchor="end" textLength="8.01" lengthAdjust="spacingAndGlyphs" stroke="#1a1a1a" stroke-width="0.3">60</text>
<line x1="144.20" y1="473.36" x2="146.30" y2="473.36" stroke="#555" stroke-width="0.8"/>
<line x1="144.20" y1="470.39" x2="146.30" y2="470.39" stroke="#555" stroke-width="0.8"/>
<line x1="144.20" y1="467.43" x2="146.30" y2="467.43" stroke="#555" stroke-width="0.8"/>
<line x1="142.50" y1="464.46" x2="145.50" y2="464.46" stroke="#444" stroke-width="0.8"/>
<text x="140.50" y="467.26" font-size="8.64" text-anchor="end" textLength="8.01" lengthAdjust="spacingAndGlyphs" stroke="#1a1a1a" stroke-width="0.3">80</text>
<line x1="144.20" y1="461.50" x2="146.30" y2="461.50" stroke="#555" stroke-width="0.8"/>
<line x1="144.20" y1="458.53" x2="146.30" y2="458.53" stroke="#555" stroke-width="0.8"/>
<line x1="144.20" y1="455.56" x2="146.30" y2="455.56" stroke="#555" stroke-width="0.8"/>
<line x1="142.50" y1="452.60" x2="145.50" y2="452.60" stroke="#444" stroke-width="0.8"/>
<text x="140.50" y="455.40" font-size="8.64" text-anchor="end" textLength="12.01" lengthAdjust="spacingAndGlyphs" stroke="#1a1a1a" stroke-width="0.3">100</text>
<text x="155.10" y="522.70" font-size="7.57" text-anchor="middle" textLength="3.89" lengthAdjust="spacingAndGlyphs" stroke="#1a1a1a" stroke-width="0.3">0</text>
<text x="168.30" y="522.70" font-size="7.25" text-anchor="middle" textLength="7.67" lengthAdjust="spacingAndGlyphs" stroke="#1a1a1a" stroke-width="0.3">10</text>
<text x="172.60" y="520.40" font-size="5.25" textLength="2.78" lengthAdjust="spacingAndGlyphs" stroke="#1a1a1a" stroke-width="0.3">1</text>
<text x="188.20" y="522.70" font-size="7.25" text-anchor="middle" textLength="7.67" lengthAdjust="spacingAndGlyphs" stroke="#1a1a1a" stroke-width="0.3">10</text>
<text x="192.50" y="520.40" font-size="5.25" textLength="2.78" lengthAdjust="spacingAndGlyphs" stroke="#1a1a1a" stroke-width="0.3">2</text>
<text x="207.30" y="522.70" font-size="7.25" text-anchor="middle" textLength="7.67" lengthAdjust="spacingAndGlyphs" stroke="#1a1a1a" stroke-width="0.3">10</text>
<text x="211.60" y="520.40" font-size="5.25" textLength="2.78" lengthAdjust="spacingAndGlyphs" stroke="#1a1a1a" stroke-width="0.3">3</text>
<path d="M157.50,511.90C157.83,510.60 158.17,510.09 158.50,508.00C159.00,504.86 159.50,500.85 160.00,495.00C160.40,490.32 160.80,482.45 161.20,477.30C161.63,471.72 162.07,466.33 162.50,463.00C162.97,459.42 163.43,456.90 163.90,456.90C164.33,456.90 164.77,457.95 165.20,462.00C165.67,466.37 166.13,478.23 166.60,482.70C167.67,492.92 168.73,493.16 169.80,496.70C171.23,501.45 172.67,503.93 174.10,506.40C175.17,508.24 176.23,509.23 177.30,510.20C178.20,511.02 179.10,511.33 180.00,511.90Z" fill="#b2b2b2" stroke="#888" stroke-width="0.6"/>
<path d="M158.00,511.90C158.67,506.27 159.33,501.65 160.00,495.00C160.67,488.35 161.33,477.93 162.00,472.00C162.80,464.88 163.60,460.02 164.40,456.90C164.93,454.82 165.47,455.12 166.00,454.50C166.37,454.07 166.73,453.60 167.10,453.60C167.80,453.60 168.50,455.47 169.20,457.90C169.93,460.45 170.67,464.17 171.40,468.70C171.93,471.99 172.47,476.83 173.00,480.60C173.53,484.37 174.07,488.21 174.60,491.30C175.33,495.55 176.07,499.42 176.80,502.10C177.70,505.39 178.60,507.18 179.50,508.60C180.57,510.28 181.63,510.45 182.70,511.00C183.80,511.56 184.90,511.60 186.00,511.90" fill="none" stroke="#333" stroke-width="0.8" stroke-linejoin="round"/>
<path d="M146.00,511.90C149.47,511.90 152.93,511.90 156.40,511.90C156.57,511.90 156.73,492.79 156.90,480.00C157.00,472.33 157.10,453.10 157.20,453.10C157.53,453.10 157.87,453.10 158.20,453.50C158.37,453.70 158.53,474.00 158.70,474.00C159.13,474.00 159.57,470.88 160.00,470.00C160.50,468.98 161.00,468.50 161.50,468.50C162.00,468.50 162.50,468.79 163.00,470.00C163.63,471.53 164.27,474.07 164.90,477.30C165.47,480.19 166.03,485.14 166.60,488.10C167.30,491.76 168.00,494.56 168.70,496.70C169.77,499.97 170.83,501.46 171.90,503.20C173.37,505.59 174.83,507.15 176.30,508.60C177.37,509.65 178.43,510.51 179.50,511.00C181.33,511.84 183.17,511.90 185.00,511.90C200.10,511.90 215.20,511.90 230.30,511.90" fill="none" stroke="#000" stroke-width="1.6" stroke-linejoin="round"/>
<path d="M158.00,511.90C158.50,504.60 159.00,498.15 159.50,490.00C159.83,484.57 160.17,477.57 160.50,472.00C160.73,468.10 160.97,463.59 161.20,461.20C161.73,455.74 162.27,453.10 162.80,453.10C163.33,453.10 163.87,453.10 164.40,453.60C165.13,454.29 165.87,456.36 166.60,459.00C167.13,460.92 167.67,463.72 168.20,466.60C168.73,469.48 169.27,473.07 169.80,476.30C170.33,479.53 170.87,482.95 171.40,486.00C171.93,489.05 172.47,492.26 173.00,494.60C173.73,497.82 174.47,499.91 175.20,502.10C175.90,504.19 176.60,506.23 177.30,507.50C178.40,509.50 179.50,510.27 180.60,511.00C181.73,511.75 182.87,511.60 184.00,511.90" fill="none" stroke="#000" stroke-width="1.5" stroke-linejoin="round"/>
<text x="42.60" y="532.60" font-size="8.55" textLength="8.50" lengthAdjust="spacingAndGlyphs" stroke="#1a1a1a" stroke-width="0.3">LC</text>
<line x1="41.80" y1="538.60" x2="41.80" y2="607.80" stroke="#444" stroke-width="1.0"/>
<line x1="41.80" y1="607.80" x2="127.00" y2="607.80" stroke="#222" stroke-width="1.0"/>
<line x1="38.80" y1="607.80" x2="41.80" y2="607.80" stroke="#444" stroke-width="0.8"/>
<text x="36.80" y="610.60" font-size="8.64" text-anchor="end" textLength="4.00" lengthAdjust="spacingAndGlyphs" stroke="#1a1a1a" stroke-width="0.3">0</text>
<line x1="40.50" y1="604.39" x2="42.60" y2="604.39" stroke="#555" stroke-width="0.8"/>
<line x1="40.50" y1="600.98" x2="42.60" y2="600.98" stroke="#555" stroke-width="0.8"/>
<line x1="40.50" y1="597.57" x2="42.60" y2="597.57" stroke="#555" stroke-width="0.8"/>
<line x1="38.80" y1="594.16" x2="41.80" y2="594.16" stroke="#444" stroke-width="0.8"/>
<text x="36.80" y="596.96" font-size="8.64" text-anchor="end" textLength="8.01" lengthAdjust="spacingAndGlyphs" stroke="#1a1a1a" stroke-width="0.3">20</text>
<line x1="40.50" y1="590.75" x2="42.60" y2="590.75" stroke="#555" stroke-width="0.8"/>
<line x1="40.50" y1="587.34" x2="42.60" y2="587.34" stroke="#555" stroke-width="0.8"/>
<line x1="40.50" y1="583.93" x2="42.60" y2="583.93" stroke="#555" stroke-width="0.8"/>
<line x1="38.80" y1="580.52" x2="41.80" y2="580.52" stroke="#444" stroke-width="0.8"/>
<text x="36.80" y="583.32" font-size="8.64" text-anchor="end" textLength="8.01" lengthAdjust="spacingAndGlyphs" stroke="#1a1a1a" stroke-width="0.3">40</text>
<line x1="40.50" y1="577.11" x2="42.60" y2="577.11" stroke="#555" stroke-width="0.8"/>
<line x1="40.50" y1="573.70" x2="42.60" y2="573.70" stroke="#555" stroke-width="0.8"/>
<line x1="40.50" y1="570.29" x2="42.60" y2="570.29" stroke="#555" stroke-width="0.8"/>
<line x1="38.80" y1="566.88" x2="41.80" y2="566.88" stroke="#444" stroke-width="0.8"/>
<text x="36.80" y="569.68" font-size="8.64" text-anchor="end" textLength="8.01" lengthAdjust="spacingAndGlyphs" stroke="#1a1a1a" stroke-width="0.3">60</text>
<line x1="40.50" y1="563.47" x2="42.60" y2="563.47" stroke="#555" stroke-width="0.8"/>
<line x1="40.50" y1="560.06" x2="42.60" y2="560.06" stroke="#555" stroke-width="0.8"/>
<line x1="40.50" y1="556.65" x2="42.60" y2="556.65" stroke="#555" stroke-width="0.8"/>
<line x1="38.80" y1="553.24" x2="41.80" y2="553.24" stroke="#444" stroke-width="0.8"/>
<text x="36.80" y="556.04" font-size="8.64" text-anchor="end" textLength="8.01" lengthAdjust="spacingAndGlyphs" stroke="#1a1a1a" stroke-width="0.3">80</text>
<line x1="40.50" y1="549.83" x2="42.60" y2="549.83" stroke="#555" stroke-width="0.8"/>
<line x1="40.50" y1="546.42" x2="42.60" y2="546.42" stroke="#555" stroke-width="0.8"/>
<line x1="40.50" y1="543.01" x2="42.60" y2="543.01" stroke="#555" stroke-width="0.8"/>
<line x1="38.80" y1="539.60" x2="41.80" y2="539.60" stroke="#444" stroke-width="0.8"/>
<text x="36.80" y="542.40" font-size="8.64" text-anchor="end" textLength="12.01" lengthAdjust="spacingAndGlyphs" stroke="#1a1a1a" stroke-width="0.3">100</text>
<text x="50.00" y="619.60" font-size="8.08" text-anchor="middle" textLength="3.89" lengthAdjust="spacingAndGlyphs" stroke="#1a1a1a" stroke-width="0.3">0</text>
<text x="58.50" y="619.60" font-size="7.73" text-anchor="middle" textLength="7.67" lengthAdjust="spacingAndGlyphs" stroke="#1a1a1a" stroke-width="0.3">10</text>
<text x="63.30" y="617.30" font-size="5.60" textLength="2.78" lengthAdjust="spacingAndGlyphs" stroke="#1a1a1a" stroke-width="0.3">2</text>
<text x="78.80" y="619.60" font-size="7.73" text-anchor="middle" textLength="7.67" lengthAdjust="spacingAndGlyphs" stroke="#1a1a1a" stroke-width="0.3">10</text>
<text x="83.60" y="617.30" font-size="5.60" textLength="2.78" lengthAdjust="spacingAndGlyphs" stroke="#1a1a1a" stroke-width="0.3">3</text>
<text x="98.20" y="619.60" font-size="7.73" text-anchor="middle" textLength="7.67" lengthAdjust="spacingAndGlyphs" stroke="#1a1a1a" stroke-width="0.3">10</text>
<text x="103.00" y="617.30" font-size="5.60" textLength="2.78" lengthAdjust="spacingAndGlyphs" stroke="#1a1a1a" stroke-width="0.3">4</text>
<text x="118.60" y="619.60" font-size="7.73" text-anchor="middle" textLength="7.67" lengthAdjust="spacingAndGlyphs" stroke="#1a1a1a" stroke-width="0.3">10</text>
<text x="123.40" y="617.30" font-size="5.60" textLength="2.78" lengthAdjust="spacingAndGlyphs" stroke="#1a1a1a" stroke-width="0.3">5</text>
<path d="M63.50,607.80C64.50,607.03 65.50,607.01 66.50,605.50C67.17,604.49 67.83,603.71 68.50,601.00C69.07,598.70 69.63,595.50 70.20,591.00C70.63,587.56 71.07,582.83 71.50,578.00C71.93,573.17 72.37,566.65 72.80,562.00C73.20,557.71 73.60,554.00 74.00,551.00C74.40,548.00 74.80,545.47 75.20,544.00C75.53,542.78 75.87,542.50 76.20,542.50C76.57,542.50 76.93,543.46 77.30,545.00C77.73,546.83 78.17,549.75 78.60,553.00C79.17,557.24 79.73,563.17 80.30,568.00C80.87,572.83 81.43,577.54 82.00,582.00C82.53,586.20 83.07,590.81 83.60,594.00C84.23,597.79 84.87,600.72 85.50,602.50C86.67,605.78 87.83,605.78 89.00,606.50C91.00,607.74 93.00,607.41 95.00,607.80Z" fill="#b2b2b2" stroke="none" stroke-width="0.6"/>
<path d="M42.00,607.80C48.00,607.80 54.00,607.80 60.00,607.80C61.10,607.80 62.20,607.80 63.30,607.40C64.30,607.04 65.30,606.48 66.30,605.10C66.90,604.27 67.50,603.78 68.10,601.50C68.67,599.35 69.23,596.39 69.80,592.00C70.20,588.90 70.60,584.65 71.00,580.10C71.40,575.55 71.80,569.25 72.20,564.70C72.60,560.15 73.00,556.27 73.40,552.80C73.80,549.33 74.20,545.78 74.60,543.90C75.10,541.55 75.60,540.90 76.10,540.90C76.67,540.90 77.23,541.72 77.80,543.90C78.30,545.82 78.80,549.16 79.30,552.80C79.90,557.16 80.50,563.35 81.10,568.30C81.70,573.25 82.30,578.15 82.90,582.50C83.50,586.85 84.10,591.23 84.70,594.40C85.40,598.10 86.10,601.01 86.80,602.70C88.07,605.75 89.33,605.32 90.60,606.00C92.60,607.07 94.60,606.94 96.60,607.20C99.40,607.56 102.20,607.66 105.00,607.70C112.33,607.80 119.67,607.79 127.00,607.80" fill="none" stroke="#000" stroke-width="2.0" stroke-linejoin="round"/>
<line x1="145.80" y1="538.60" x2="145.80" y2="607.80" stroke="#444" stroke-width="1.0"/>
<line x1="145.80" y1="607.80" x2="230.70" y2="607.80" stroke="#222" stroke-width="1.0"/>
<line x1="142.80" y1="607.80" x2="145.80" y2="607.80" stroke="#444" stroke-width="0.8"/>
<text x="140.80" y="610.60" font-size="8.64" text-anchor="end" textLength="4.00" lengthAdjust="spacingAndGlyphs" stroke="#1a1a1a" stroke-width="0.3">0</text>
<line x1="144.50" y1="604.39" x2="146.60" y2="604.39" stroke="#555" stroke-width="0.8"/>
<line x1="144.50" y1="600.98" x2="146.60" y2="600.98" stroke="#555" stroke-width="0.8"/>
<line x1="144.50" y1="597.57" x2="146.60" y2="597.57" stroke="#555" stroke-width="0.8"/>
<line x1="142.80" y1="594.16" x2="145.80" y2="594.16" stroke="#444" stroke-width="0.8"/>
<text x="140.80" y="596.96" font-size="8.64" text-anchor="end" textLength="8.01" lengthAdjust="spacingAndGlyphs" stroke="#1a1a1a" stroke-width="0.3">20</text>
<line x1="144.50" y1="590.75" x2="146.60" y2="590.75" stroke="#555" stroke-width="0.8"/>
<line x1="144.50" y1="587.34" x2="146.60" y2="587.34" stroke="#555" stroke-width="0.8"/>
<line x1="144.50" y1="583.93" x2="146.60" y2="583.93" stroke="#555" stroke-width="0.8"/>
<line x1="142.80" y1="580.52" x2="145.80" y2="580.52" stroke="#444" stroke-width="0.8"/>
<text x="140.80" y="583.32" font-size="8.64" text-anchor="end" textLength="8.01" lengthAdjust="spacingAndGlyphs" stroke="#1a1a1a" stroke-width="0.3">40</text>
<line x1="144.50" y1="577.11" x2="146.60" y2="577.11" stroke="#555" stroke-width="0.8"/>
<line x1="144.50" y1="573.70" x2="146.60" y2="573.70" stroke="#555" stroke-width="0.8"/>
<line x1="144.50" y1="570.29" x2="146.60" y2="570.29" stroke="#555" stroke-width="0.8"/>
<line x1="142.80" y1="566.88" x2="145.80" y2="566.88" stroke="#444" stroke-width="0.8"/>
<text x="140.80" y="569.68" font-size="8.64" text-anchor="end" textLength="8.01" lengthAdjust="spacingAndGlyphs" stroke="#1a1a1a" stroke-width="0.3">60</text>
<line x1="144.50" y1="563.47" x2="146.60" y2="563.47" stroke="#555" stroke-width="0.8"/>
<line x1="144.50" y1="560.06" x2="146.60" y2="560.06" stroke="#555" stroke-width="0.8"/>
<line x1="144.50" y1="556.65" x2="146.60" y2="556.65" stroke="#555" stroke-width="0.8"/>
<line x1="142.80" y1="553.24" x2="145.80" y2="553.24" stroke="#444" stroke-width="0.8"/>
<text x="140.80" y="556.04" font-size="8.64" text-anchor="end" textLength="8.01" lengthAdjust="spacingAndGlyphs" stroke="#1a1a1a" stroke-width="0.3">80</text>
<line x1="144.50" y1="549.83" x2="146.60" y2="549.83" stroke="#555" stroke-width="0.8"/>
<line x1="144.50" y1="546.42" x2="146.60" y2="546.42" stroke="#555" stroke-width="0.8"/>
<line x1="144.50" y1="543.01" x2="146.60" y2="543.01" stroke="#555" stroke-width="0.8"/>
<line x1="142.80" y1="539.60" x2="145.80" y2="539.60" stroke="#444" stroke-width="0.8"/>
<text x="140.80" y="542.40" font-size="8.64" text-anchor="end" textLength="12.01" lengthAdjust="spacingAndGlyphs" stroke="#1a1a1a" stroke-width="0.3">100</text>
<text x="154.70" y="619.70" font-size="8.08" text-anchor="middle" textLength="3.89" lengthAdjust="spacingAndGlyphs" stroke="#1a1a1a" stroke-width="0.3">0</text>
<text x="162.70" y="619.70" font-size="7.73" text-anchor="middle" textLength="7.67" lengthAdjust="spacingAndGlyphs" stroke="#1a1a1a" stroke-width="0.3">10</text>
<text x="167.50" y="617.40" font-size="5.60" textLength="2.78" lengthAdjust="spacingAndGlyphs" stroke="#1a1a1a" stroke-width="0.3">2</text>
<text x="183.30" y="619.70" font-size="7.73" text-anchor="middle" textLength="7.67" lengthAdjust="spacingAndGlyphs" stroke="#1a1a1a" stroke-width="0.3">10</text>
<text x="188.10" y="617.40" font-size="5.60" textLength="2.78" lengthAdjust="spacingAndGlyphs" stroke="#1a1a1a" stroke-width="0.3">3</text>
<text x="203.10" y="619.70" font-size="7.73" text-anchor="middle" textLength="7.67" lengthAdjust="spacingAndGlyphs" stroke="#1a1a1a" stroke-width="0.3">10</text>
<text x="207.90" y="617.40" font-size="5.60" textLength="2.78" lengthAdjust="spacingAndGlyphs" stroke="#1a1a1a" stroke-width="0.3">4</text>
<text x="222.80" y="619.70" font-size="7.73" text-anchor="middle" textLength="7.67" lengthAdjust="spacingAndGlyphs" stroke="#1a1a1a" stroke-width="0.3">10</text>
<text x="227.60" y="617.40" font-size="5.60" textLength="2.78" lengthAdjust="spacingAndGlyphs" stroke="#1a1a1a" stroke-width="0.3">5</text>
<path d="M156.00,607.80C156.57,607.20 157.13,607.17 157.70,606.00C158.70,603.94 159.70,602.31 160.70,596.80C161.30,593.50 161.90,587.85 162.50,582.50C163.10,577.15 163.70,571.22 164.30,564.70C164.77,559.63 165.23,551.99 165.70,548.10C166.20,543.94 166.70,540.90 167.20,540.90C167.60,540.90 168.00,543.92 168.40,546.90C168.80,549.88 169.20,555.24 169.60,558.80C170.20,564.14 170.80,568.65 171.40,573.00C172.00,577.35 172.60,581.36 173.20,584.90C173.97,589.42 174.73,594.06 175.50,596.80C176.50,600.37 177.50,601.30 178.50,602.70C179.70,604.38 180.90,604.98 182.10,605.70C183.27,606.40 184.43,606.59 185.60,607.00C186.40,607.28 187.20,607.53 188.00,607.80Z" fill="#b2b2b2" stroke="#333" stroke-width="0.8"/>
<path d="M159.00,607.80C159.97,607.47 160.93,607.76 161.90,606.30C162.87,604.84 163.83,599.26 164.80,594.40C165.60,590.38 166.40,586.44 167.20,580.10C167.80,575.35 168.40,568.31 169.00,562.30C169.47,557.63 169.93,551.42 170.40,548.10C171.03,543.59 171.67,540.30 172.30,540.30C172.80,540.30 173.30,543.18 173.80,546.90C174.37,551.11 174.93,559.31 175.50,564.70C176.10,570.41 176.70,575.75 177.30,580.10C177.90,584.45 178.50,587.98 179.10,590.80C179.90,594.56 180.70,597.05 181.50,599.10C182.47,601.57 183.43,602.86 184.40,603.90C186.00,605.62 187.60,605.70 189.20,606.30C190.77,606.89 192.33,607.24 193.90,607.50C195.27,607.72 196.63,607.70 198.00,607.80" fill="none" stroke="#444" stroke-width="0.8" stroke-linejoin="round"/>
<path d="M146.00,607.80C149.70,607.76 153.40,607.80 157.10,607.60C159.87,607.45 162.63,606.79 165.40,606.30C167.40,605.94 169.40,605.99 171.40,605.10C172.57,604.58 173.73,603.68 174.90,602.70C175.90,601.86 176.90,601.55 177.90,599.70C178.70,598.22 179.50,596.39 180.30,593.20C180.90,590.80 181.50,587.17 182.10,583.70C182.67,580.42 183.23,576.47 183.80,573.00C184.40,569.33 185.00,565.56 185.60,562.30C186.00,560.13 186.40,559.38 186.80,556.40C187.00,554.91 187.20,551.78 187.40,550.40C187.60,549.02 187.80,548.62 188.00,548.10C188.60,546.55 189.20,546.95 189.80,545.70C190.37,544.52 190.93,540.90 191.50,540.90C192.10,540.90 192.70,541.10 193.30,541.50C194.10,542.03 194.90,542.06 195.70,543.90C196.30,545.28 196.90,549.02 197.50,550.40C198.10,551.78 198.70,551.80 199.30,552.20C200.07,552.71 200.83,552.25 201.60,554.60C202.00,555.82 202.40,563.08 202.80,564.70C203.60,567.94 204.40,566.74 205.20,568.30C205.80,569.47 206.40,572.62 207.00,574.20C207.60,575.78 208.20,576.16 208.80,577.80C209.37,579.35 209.93,582.15 210.50,583.70C211.10,585.34 211.70,585.92 212.30,587.30C212.90,588.68 213.50,590.92 214.10,592.00C214.90,593.44 215.70,593.39 216.50,594.40C217.27,595.37 218.03,596.93 218.80,597.90C219.80,599.16 220.80,600.02 221.80,600.90C223.00,601.95 224.20,602.77 225.40,603.60C226.20,604.15 227.00,605.10 227.80,605.10C228.77,605.10 229.73,605.10 230.70,605.10" fill="none" stroke="#000" stroke-width="1.7" stroke-linejoin="round"/>
<line x1="42.00" y1="622.50" x2="126.20" y2="622.50" stroke="#333" stroke-width="1.0"/>
<polygon points="125.0,621.5 127.5,622.5 125.0,623.5" fill="#222"/>
<line x1="145.80" y1="622.50" x2="229.80" y2="622.50" stroke="#333" stroke-width="1.0"/>
<polygon points="228.6,621.5 231.1,622.5 228.6,623.5" fill="#222"/>
<text x="82.90" y="633.20" font-size="8.66" text-anchor="middle" textLength="30.30" lengthAdjust="spacingAndGlyphs" stroke="#1a1a1a" stroke-width="0.3">DC-SIGN</text>
<text x="187.10" y="633.20" font-size="8.66" text-anchor="middle" textLength="30.20" lengthAdjust="spacingAndGlyphs" stroke="#1a1a1a" stroke-width="0.3">Langerin</text>
<text x="14.70" y="633.30" font-size="8.96" text-anchor="middle" textLength="4.89" lengthAdjust="spacingAndGlyphs" font-weight="bold" stroke="#1a1a1a" stroke-width="0.45">b</text>
<text x="17.60" y="481.10" font-size="8.55" text-anchor="middle" textLength="36.60" lengthAdjust="spacingAndGlyphs" stroke="#1a1a1a" stroke-width="0.3" transform="rotate(-90 17.60 481.10)">Frequency</text>
<text x="17.60" y="572.50" font-size="8.55" text-anchor="middle" textLength="37.30" lengthAdjust="spacingAndGlyphs" stroke="#1a1a1a" stroke-width="0.3" transform="rotate(-90 17.60 572.50)">Frequency</text>
</svg></body></html>
